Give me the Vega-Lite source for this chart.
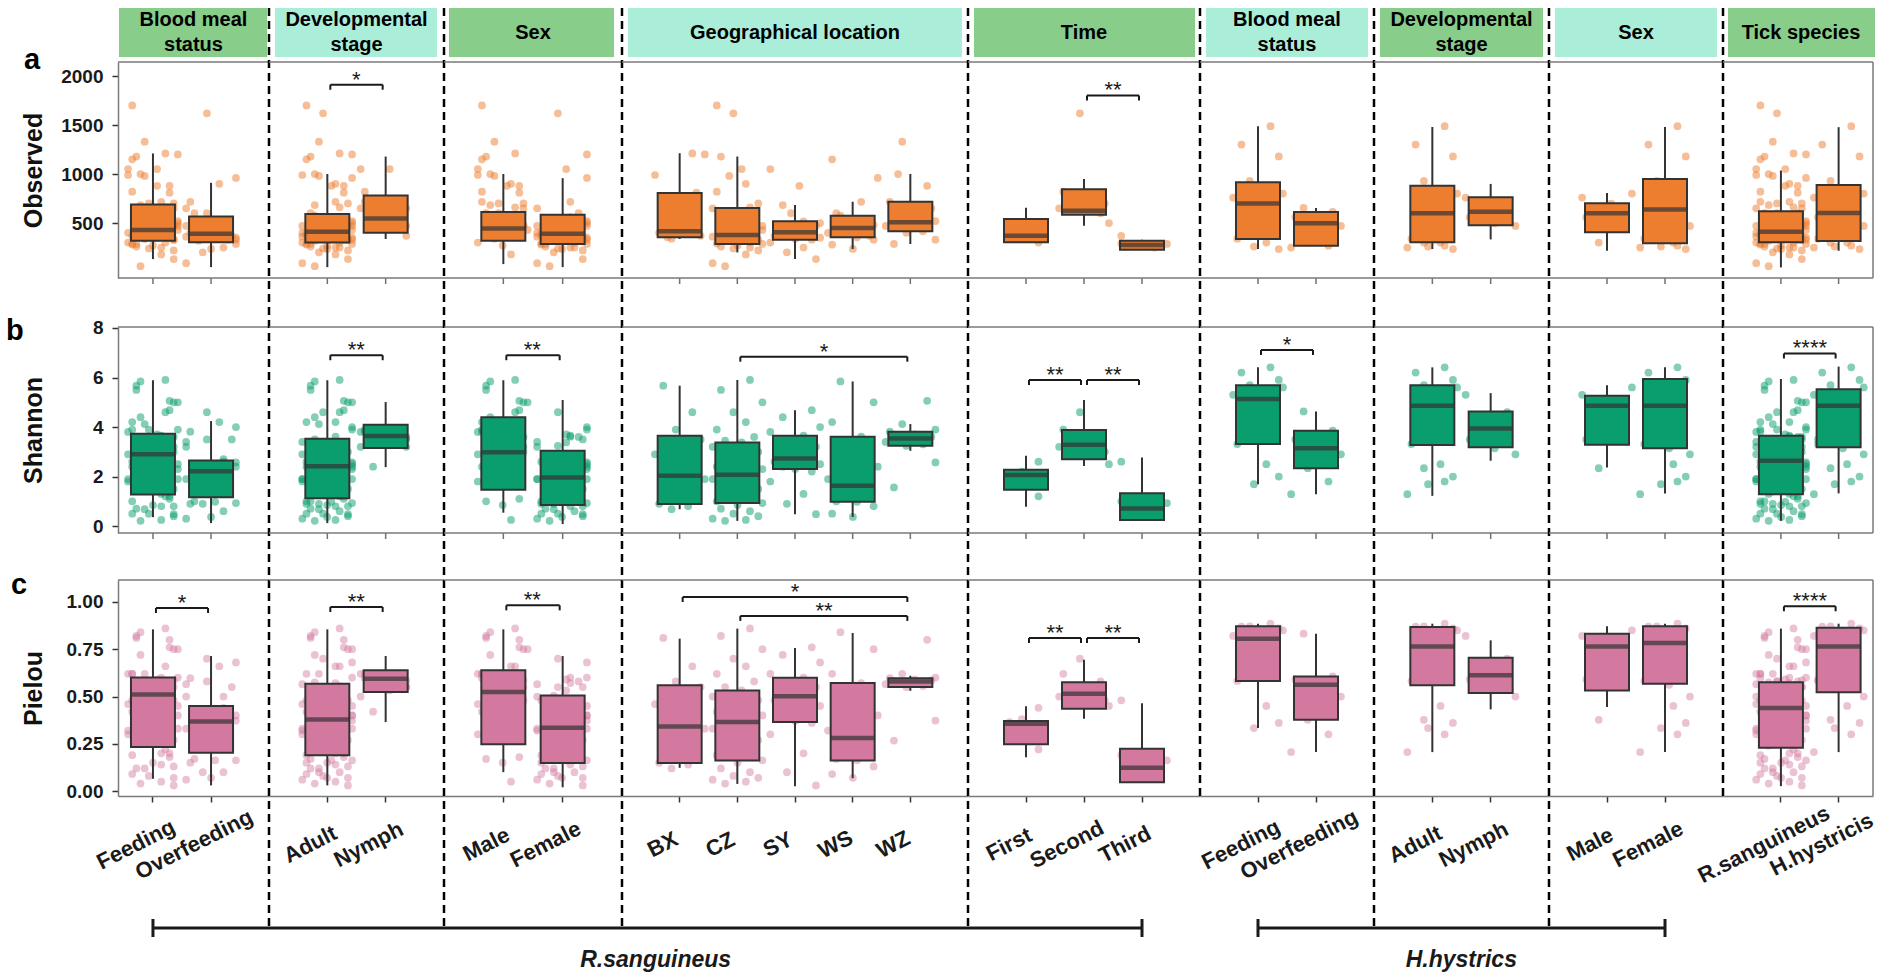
{
"$schema":"https://vega.github.io/schema/vega-lite/v6.json",
"padding":{"left":5,"top":6,"right":5,"bottom":4},
"background":"white",
"config":{"font":"Liberation Sans","view":{"stroke":null},
"axis":{"grid":false,"domainColor":"#7a7a7a","domainWidth":1.5,"tickColor":"#333333","tickWidth":1.5,"tickSize":6,"labelFont":"Liberation Sans","labelFontWeight":"bold","labelColor":"#1a1a1a","titleFont":"Liberation Sans"}},
"datasets":{
"smp":[
{"sp":"R.sanguineus","bm":"Feeding","dv":"Adult","sx":"Male","geo":"BX","o":450,"s":5.67,"p":0.81,"j":-0.4},
{"sp":"R.sanguineus","bm":"Feeding","dv":"Adult","sx":"Male","geo":"BX","o":1210,"s":4.6,"p":0.66,"j":0.3},
{"sp":"R.sanguineus","bm":"Feeding","dv":"Nymph","sx":"Male","geo":"BX","o":700,"s":3.9,"p":0.58,"j":-0.1},
{"sp":"R.sanguineus","bm":"Overfeeding","dv":"Nymph","sx":"Female","geo":"BX","o":370,"s":3.5,"p":0.55,"j":0.5},
{"sp":"R.sanguineus","bm":"Feeding","dv":"Adult","sx":"Male","geo":"BX","o":990,"s":2.9,"p":0.46,"j":-0.6},
{"sp":"R.sanguineus","bm":"Feeding","dv":"Adult","sx":"Female","geo":"BX","o":415,"s":2.2,"p":0.36,"j":0.1},
{"sp":"R.sanguineus","bm":"Feeding","dv":"Adult","sx":"Female","geo":"BX","o":1200,"s":1.9,"p":0.33,"j":0.6},
{"sp":"R.sanguineus","bm":"Feeding","dv":"Adult","sx":"Female","geo":"BX","o":355,"s":1.5,"p":0.25,"j":-0.3},
{"sp":"R.sanguineus","bm":"Feeding","dv":"Adult","sx":"Male","geo":"BX","o":810,"s":1.1,"p":0.18,"j":0.4},
{"sp":"R.sanguineus","bm":"Overfeeding","dv":"Adult","sx":"Female","geo":"BX","o":400,"s":0.9,"p":0.15,"j":-0.5},
{"sp":"R.sanguineus","bm":"Feeding","dv":"Adult","sx":"Female","geo":"BX","o":560,"s":0.8,"p":0.14,"j":0.2},
{"sp":"R.sanguineus","bm":"Feeding","dv":"Adult","sx":"Female","geo":"BX","o":340,"s":0.68,"p":0.12,"j":-0.2},
{"sp":"R.sanguineus","bm":"Feeding","dv":"Adult","sx":"Male","geo":"CZ","o":660,"s":5.9,"p":0.86,"j":0.3},
{"sp":"R.sanguineus","bm":"Feeding","dv":"Adult","sx":"Male","geo":"CZ","o":1178,"s":5.5,"p":0.82,"j":-0.4},
{"sp":"R.sanguineus","bm":"Feeding","dv":"Adult","sx":"Male","geo":"CZ","o":430,"s":5.0,"p":0.75,"j":0.6},
{"sp":"R.sanguineus","bm":"Overfeeding","dv":"Adult","sx":"Female","geo":"CZ","tm":"Second","o":1620,"s":4.6,"p":0.7,"j":-0.1},
{"sp":"R.sanguineus","bm":"Overfeeding","dv":"Adult","sx":"Male","geo":"CZ","o":900,"s":4.2,"p":0.66,"j":0.2},
{"sp":"R.sanguineus","bm":"Feeding","dv":"Nymph","sx":"Male","geo":"CZ","tm":"Second","o":820,"s":3.9,"p":0.62,"j":-0.5},
{"sp":"R.sanguineus","bm":"Feeding","dv":"Nymph","sx":"Female","geo":"CZ","tm":"Second","o":600,"s":3.6,"p":0.58,"j":0.4},
{"sp":"R.sanguineus","bm":"Feeding","dv":"Nymph","sx":"Male","geo":"CZ","o":550,"s":3.45,"p":0.55,"j":-0.3},
{"sp":"R.sanguineus","bm":"Feeding","dv":"Nymph","sx":"Female","geo":"CZ","o":1050,"s":3.38,"p":0.532,"j":0.1},
{"sp":"R.sanguineus","bm":"Overfeeding","dv":"Nymph","sx":"Female","geo":"CZ","tm":"Second","o":650,"s":3.2,"p":0.5,"j":-0.6},
{"sp":"R.sanguineus","bm":"Feeding","dv":"Adult","sx":"Male","geo":"CZ","tm":"Second","o":700,"s":3.0,"p":0.48,"j":0.5},
{"sp":"R.sanguineus","bm":"Feeding","dv":"Adult","sx":"Male","geo":"CZ","o":980,"s":2.8,"p":0.46,"j":-0.2},
{"sp":"R.sanguineus","bm":"Overfeeding","dv":"Adult","sx":"Female","geo":"CZ","tm":"First","o":500,"s":2.6,"p":0.44,"j":0.3},
{"sp":"R.sanguineus","bm":"Feeding","dv":"Adult","sx":"Male","geo":"CZ","o":1700,"s":2.4,"p":0.42,"j":-0.5},
{"sp":"R.sanguineus","bm":"Feeding","dv":"Adult","sx":"Female","geo":"CZ","o":470,"s":2.3,"p":0.4,"j":0.6},
{"sp":"R.sanguineus","bm":"Feeding","dv":"Adult","sx":"Female","geo":"CZ","tm":"First","o":400,"s":2.2,"p":0.38,"j":-0.1},
{"sp":"R.sanguineus","bm":"Overfeeding","dv":"Adult","sx":"Male","geo":"CZ","o":390,"s":2.1,"p":0.37,"j":0.2},
{"sp":"R.sanguineus","bm":"Feeding","dv":"Adult","sx":"Female","geo":"CZ","tm":"First","o":378,"s":2.07,"p":0.365,"j":-0.4},
{"sp":"R.sanguineus","bm":"Feeding","dv":"Adult","sx":"Male","geo":"CZ","tm":"First","o":370,"s":2.0,"p":0.35,"j":0.4},
{"sp":"R.sanguineus","bm":"Overfeeding","dv":"Adult","sx":"Female","geo":"CZ","o":360,"s":1.9,"p":0.33,"j":-0.6},
{"sp":"R.sanguineus","bm":"Feeding","dv":"Adult","sx":"Female","geo":"CZ","o":350,"s":1.8,"p":0.31,"j":0.1},
{"sp":"R.sanguineus","bm":"Feeding","dv":"Adult","sx":"Male","geo":"CZ","tm":"First","o":340,"s":1.6,"p":0.29,"j":-0.2},
{"sp":"R.sanguineus","bm":"Feeding","dv":"Adult","sx":"Female","geo":"CZ","o":330,"s":1.5,"p":0.27,"j":0.5},
{"sp":"R.sanguineus","bm":"Overfeeding","dv":"Adult","sx":"Female","geo":"CZ","o":320,"s":1.3,"p":0.24,"j":-0.3},
{"sp":"R.sanguineus","bm":"Feeding","dv":"Adult","sx":"Female","geo":"CZ","tm":"First","o":300,"s":1.2,"p":0.22,"j":0.3},
{"sp":"R.sanguineus","bm":"Feeding","dv":"Adult","sx":"Female","geo":"CZ","tm":"Third","o":290,"s":1.0,"p":0.19,"j":-0.5},
{"sp":"R.sanguineus","bm":"Overfeeding","dv":"Adult","sx":"Female","geo":"CZ","tm":"Third","o":286,"s":0.93,"p":0.162,"j":0.6},
{"sp":"R.sanguineus","bm":"Feeding","dv":"Adult","sx":"Male","geo":"CZ","tm":"Third","o":270,"s":0.85,"p":0.15,"j":0.0},
{"sp":"R.sanguineus","bm":"Feeding","dv":"Adult","sx":"Female","geo":"CZ","tm":"Third","o":260,"s":0.7,"p":0.12,"j":-0.4},
{"sp":"R.sanguineus","bm":"Overfeeding","dv":"Adult","sx":"Female","geo":"CZ","tm":"Third","o":250,"s":0.6,"p":0.1,"j":0.3},
{"sp":"R.sanguineus","bm":"Feeding","dv":"Adult","sx":"Female","geo":"CZ","o":240,"s":0.5,"p":0.08,"j":-0.1},
{"sp":"R.sanguineus","bm":"Feeding","dv":"Adult","sx":"Female","geo":"CZ","o":220,"s":0.4,"p":0.07,"j":0.5},
{"sp":"R.sanguineus","bm":"Overfeeding","dv":"Adult","sx":"Female","geo":"CZ","o":90,"s":0.3,"p":0.06,"j":-0.6},
{"sp":"R.sanguineus","bm":"Feeding","dv":"Adult","sx":"Male","geo":"CZ","o":180,"s":0.25,"p":0.05,"j":0.2},
{"sp":"R.sanguineus","bm":"Feeding","dv":"Adult","sx":"Female","geo":"CZ","o":60,"s":0.21,"p":0.04,"j":-0.3},
{"sp":"R.sanguineus","bm":"Feeding","dv":"Adult","sx":"Male","geo":"SY","o":420,"s":4.68,"p":0.76,"j":0.4},
{"sp":"R.sanguineus","bm":"Feeding","dv":"Adult","sx":"Male","geo":"SY","o":683,"s":4.4,"p":0.72,"j":-0.3},
{"sp":"R.sanguineus","bm":"Overfeeding","dv":"Adult","sx":"Female","geo":"SY","o":350,"s":4.0,"p":0.68,"j":0.6},
{"sp":"R.sanguineus","bm":"Feeding","dv":"Nymph","sx":"Male","geo":"SY","o":1050,"s":3.8,"p":0.62,"j":-0.6},
{"sp":"R.sanguineus","bm":"Feeding","dv":"Nymph","sx":"Female","geo":"SY","o":518,"s":3.65,"p":0.6,"j":0.2},
{"sp":"R.sanguineus","bm":"Overfeeding","dv":"Nymph","sx":"Male","geo":"SY","o":600,"s":3.5,"p":0.58,"j":-0.1},
{"sp":"R.sanguineus","bm":"Feeding","dv":"Nymph","sx":"Male","geo":"SY","o":470,"s":3.2,"p":0.55,"j":0.5},
{"sp":"R.sanguineus","bm":"Feeding","dv":"Adult","sx":"Male","geo":"SY","o":400,"s":3.0,"p":0.53,"j":-0.4},
{"sp":"R.sanguineus","bm":"Feeding","dv":"Adult","sx":"Male","geo":"SY","o":880,"s":2.85,"p":0.51,"j":0.1},
{"sp":"R.sanguineus","bm":"Feeding","dv":"Adult","sx":"Female","geo":"SY","o":410,"s":2.75,"p":0.505,"j":-0.2},
{"sp":"R.sanguineus","bm":"Overfeeding","dv":"Adult","sx":"Male","geo":"SY","o":390,"s":2.7,"p":0.5,"j":0.3},
{"sp":"R.sanguineus","bm":"Feeding","dv":"Adult","sx":"Female","geo":"SY","tm":"Third","o":370,"s":2.6,"p":0.48,"j":-0.5},
{"sp":"R.sanguineus","bm":"Feeding","dv":"Adult","sx":"Female","geo":"SY","tm":"Second","o":500,"s":2.5,"p":0.45,"j":0.6},
{"sp":"R.sanguineus","bm":"Feeding","dv":"Nymph","sx":"Female","geo":"SY","o":440,"s":2.4,"p":0.42,"j":-0.3},
{"sp":"R.sanguineus","bm":"Feeding","dv":"Adult","sx":"Female","geo":"SY","o":340,"s":2.3,"p":0.37,"j":0.0},
{"sp":"R.sanguineus","bm":"Overfeeding","dv":"Adult","sx":"Female","geo":"SY","o":330,"s":2.2,"p":0.36,"j":0.4},
{"sp":"R.sanguineus","bm":"Feeding","dv":"Adult","sx":"Male","geo":"SY","o":300,"s":1.8,"p":0.3,"j":-0.6},
{"sp":"R.sanguineus","bm":"Feeding","dv":"Adult","sx":"Female","geo":"SY","o":250,"s":1.3,"p":0.2,"j":0.2},
{"sp":"R.sanguineus","bm":"Overfeeding","dv":"Adult","sx":"Female","geo":"SY","o":200,"s":0.9,"p":0.1,"j":-0.2},
{"sp":"R.sanguineus","bm":"Feeding","dv":"Adult","sx":"Female","geo":"SY","o":132,"s":0.48,"p":0.03,"j":0.5},
{"sp":"R.sanguineus","bm":"Feeding","dv":"Adult","sx":"Male","geo":"WS","o":575,"s":5.84,"p":0.84,"j":-0.3},
{"sp":"R.sanguineus","bm":"Feeding","dv":"Adult","sx":"Male","geo":"WS","o":480,"s":5.0,"p":0.75,"j":0.5},
{"sp":"R.sanguineus","bm":"Feeding","dv":"Adult","sx":"Male","geo":"WS","o":1150,"s":4.2,"p":0.62,"j":-0.5},
{"sp":"R.sanguineus","bm":"Feeding","dv":"Adult","sx":"Female","geo":"WS","o":717,"s":3.61,"p":0.571,"j":0.2},
{"sp":"R.sanguineus","bm":"Feeding","dv":"Adult","sx":"Male","geo":"WS","o":449,"s":3.2,"p":0.5,"j":-0.1},
{"sp":"R.sanguineus","bm":"Overfeeding","dv":"Adult","sx":"Female","geo":"WS","o":960,"s":2.4,"p":0.4,"j":0.6},
{"sp":"R.sanguineus","bm":"Feeding","dv":"Adult","sx":"Female","geo":"WS","o":400,"s":1.9,"p":0.32,"j":-0.6},
{"sp":"R.sanguineus","bm":"Feeding","dv":"Adult","sx":"Male","geo":"WS","o":520,"s":1.63,"p":0.28,"j":0.3},
{"sp":"R.sanguineus","bm":"Overfeeding","dv":"Adult","sx":"Female","geo":"WS","o":430,"s":1.4,"p":0.25,"j":-0.2},
{"sp":"R.sanguineus","bm":"Feeding","dv":"Adult","sx":"Female","geo":"WS","o":370,"s":1.2,"p":0.2,"j":0.4},
{"sp":"R.sanguineus","bm":"Overfeeding","dv":"Adult","sx":"Male","geo":"WS","o":600,"s":1.0,"p":0.17,"j":-0.4},
{"sp":"R.sanguineus","bm":"Overfeeding","dv":"Adult","sx":"Female","geo":"WS","o":354,"s":0.98,"p":0.162,"j":0.1},
{"sp":"R.sanguineus","bm":"Feeding","dv":"Adult","sx":"Female","geo":"WS","o":330,"s":0.8,"p":0.13,"j":0.5},
{"sp":"R.sanguineus","bm":"Feeding","dv":"Adult","sx":"Female","geo":"WS","o":280,"s":0.5,"p":0.09,"j":-0.5},
{"sp":"R.sanguineus","bm":"Overfeeding","dv":"Adult","sx":"Female","geo":"WS","o":235,"s":0.37,"p":0.07,"j":0.0},
{"sp":"R.sanguineus","bm":"Feeding","dv":"Adult","sx":"Male","geo":"WZ","o":880,"s":5.06,"p":0.8,"j":0.4},
{"sp":"R.sanguineus","bm":"Feeding","dv":"Adult","sx":"Male","geo":"WZ","o":1330,"s":4.12,"p":0.62,"j":-0.2},
{"sp":"R.sanguineus","bm":"Feeding","dv":"Adult","sx":"Female","geo":"WZ","o":520,"s":3.9,"p":0.6,"j":0.6},
{"sp":"R.sanguineus","bm":"Overfeeding","dv":"Nymph","sx":"Male","geo":"WZ","o":717,"s":3.81,"p":0.597,"j":-0.5},
{"sp":"R.sanguineus","bm":"Feeding","dv":"Nymph","sx":"Female","geo":"WZ","o":495,"s":3.7,"p":0.59,"j":0.1},
{"sp":"R.sanguineus","bm":"Feeding","dv":"Nymph","sx":"Male","geo":"WZ","o":650,"s":3.6,"p":0.585,"j":0.5},
{"sp":"R.sanguineus","bm":"Feeding","dv":"Adult","sx":"Male","geo":"WZ","o":1000,"s":3.5,"p":0.575,"j":-0.3},
{"sp":"R.sanguineus","bm":"Overfeeding","dv":"Adult","sx":"Female","geo":"WZ","o":470,"s":3.4,"p":0.565,"j":-0.6},
{"sp":"R.sanguineus","bm":"Feeding","dv":"Adult","sx":"Male","geo":"WZ","o":415,"s":3.3,"p":0.555,"j":0.3},
{"sp":"R.sanguineus","bm":"Feeding","dv":"Adult","sx":"Female","geo":"WZ","o":400,"s":3.24,"p":0.55,"j":-0.1},
{"sp":"R.sanguineus","bm":"Overfeeding","dv":"Adult","sx":"Female","geo":"WZ","o":330,"s":2.57,"p":0.373,"j":0.6},
{"sp":"R.sanguineus","bm":"Feeding","dv":"Adult","sx":"Female","geo":"WZ","o":286,"s":1.56,"p":0.267,"j":-0.4},
{"sp":"H.hystricis","bm":"Feeding","dv":"Adult","sx":"Female","o":1488,"s":6.41,"p":0.885,"j":0.3},
{"sp":"H.hystricis","bm":"Feeding","dv":"Adult","sx":"Female","o":1300,"s":6.2,"p":0.87,"j":-0.4},
{"sp":"H.hystricis","bm":"Feeding","dv":"Adult","sx":"Female","o":1180,"s":5.9,"p":0.86,"j":0.5},
{"sp":"H.hystricis","bm":"Feeding","dv":"Adult","sx":"Female","o":930,"s":5.69,"p":0.871,"j":-0.2},
{"sp":"H.hystricis","bm":"Feeding","dv":"Adult","sx":"Male","o":800,"s":5.6,"p":0.85,"j":0.6},
{"sp":"H.hystricis","bm":"Feeding","dv":"Nymph","sx":"Male","o":760,"s":5.3,"p":0.82,"j":-0.6},
{"sp":"H.hystricis","bm":"Feeding","dv":"Adult","sx":"Male","o":698,"s":5.13,"p":0.806,"j":0.1},
{"sp":"H.hystricis","bm":"Feeding","dv":"Adult","sx":"Female","o":640,"s":4.9,"p":0.78,"j":-0.3},
{"sp":"H.hystricis","bm":"Feeding","dv":"Nymph","sx":"Female","o":560,"s":4.6,"p":0.7,"j":0.4},
{"sp":"H.hystricis","bm":"Feeding","dv":"Adult","sx":"Female","o":340,"s":3.31,"p":0.582,"j":-0.5},
{"sp":"H.hystricis","bm":"Feeding","dv":"Adult","sx":"Female","o":300,"s":2.5,"p":0.45,"j":0.2},
{"sp":"H.hystricis","bm":"Feeding","dv":"Adult","sx":"Female","o":260,"s":1.69,"p":0.333,"j":-0.1},
{"sp":"H.hystricis","bm":"Feeding","dv":"Adult","sx":"Female","o":234,"s":2.0,"p":0.36,"j":0.5},
{"sp":"H.hystricis","bm":"Overfeeding","dv":"Adult","sx":"Female","o":654,"s":4.63,"p":0.832,"j":-0.3},
{"sp":"H.hystricis","bm":"Overfeeding","dv":"Nymph","sx":"Male","o":613,"s":3.85,"p":0.606,"j":0.4},
{"sp":"H.hystricis","bm":"Overfeeding","dv":"Nymph","sx":"Male","o":560,"s":3.5,"p":0.59,"j":-0.5},
{"sp":"H.hystricis","bm":"Overfeeding","dv":"Nymph","sx":"Female","o":497,"s":3.14,"p":0.562,"j":0.1},
{"sp":"H.hystricis","bm":"Overfeeding","dv":"Nymph","sx":"Female","o":470,"s":2.9,"p":0.5,"j":0.6},
{"sp":"H.hystricis","bm":"Overfeeding","dv":"Adult","sx":"Male","o":300,"s":2.34,"p":0.377,"j":-0.2},
{"sp":"H.hystricis","bm":"Overfeeding","dv":"Adult","sx":"Female","o":269,"s":1.8,"p":0.3,"j":0.3},
{"sp":"H.hystricis","bm":"Overfeeding","dv":"Adult","sx":"Female","o":250,"s":1.29,"p":0.206,"j":-0.6}
],
"box":[
{"g":"G1","m":"o","bm":"Feeding","lo":132,"q1":319,"md":428,"q3":688,"hi":1210},
{"g":"G1","m":"o","bm":"Overfeeding","lo":50,"q1":303,"md":390,"q3":567,"hi":910},
{"g":"G1","m":"s","bm":"Feeding","lo":0.36,"q1":1.28,"md":2.9,"q3":3.73,"hi":5.89},
{"g":"G1","m":"s","bm":"Overfeeding","lo":0.12,"q1":1.16,"md":2.21,"q3":2.65,"hi":4.24},
{"g":"G1","m":"p","bm":"Feeding","lo":0.065,"q1":0.233,"md":0.51,"q3":0.6,"hi":0.855},
{"g":"G1","m":"p","bm":"Overfeeding","lo":0.03,"q1":0.203,"md":0.368,"q3":0.45,"hi":0.714},
{"g":"G2","m":"o","dv":"Adult","lo":50,"q1":300,"md":411,"q3":592,"hi":1000},
{"g":"G2","m":"o","dv":"Nymph","lo":337,"q1":400,"md":545,"q3":780,"hi":1178},
{"g":"G2","m":"s","dv":"Adult","lo":0.12,"q1":1.12,"md":2.42,"q3":3.53,"hi":5.89},
{"g":"G2","m":"s","dv":"Nymph","lo":2.38,"q1":3.15,"md":3.64,"q3":4.09,"hi":5.01},
{"g":"G2","m":"p","dv":"Adult","lo":0.03,"q1":0.189,"md":0.379,"q3":0.568,"hi":0.855},
{"g":"G2","m":"p","dv":"Nymph","lo":0.365,"q1":0.524,"md":0.594,"q3":0.639,"hi":0.714},
{"g":"G3","m":"o","sx":"Male","lo":81,"q1":320,"md":445,"q3":612,"hi":1000},
{"g":"G3","m":"o","sx":"Female","lo":50,"q1":286,"md":390,"q3":585,"hi":958},
{"g":"G3","m":"s","sx":"Male","lo":0.54,"q1":1.47,"md":2.98,"q3":4.39,"hi":5.89},
{"g":"G3","m":"s","sx":"Female","lo":0.08,"q1":0.85,"md":1.96,"q3":3.04,"hi":5.09},
{"g":"G3","m":"p","sx":"Male","lo":0.1,"q1":0.247,"md":0.524,"q3":0.639,"hi":0.855},
{"g":"G3","m":"p","sx":"Female","lo":0.02,"q1":0.148,"md":0.335,"q3":0.506,"hi":0.714},
{"g":"G4","m":"o","geo":"BX","lo":337,"q1":354,"md":415,"q3":807,"hi":1212},
{"g":"G4","m":"o","geo":"CZ","lo":200,"q1":286,"md":378,"q3":654,"hi":1178},
{"g":"G4","m":"o","geo":"SY","lo":132,"q1":330,"md":405,"q3":518,"hi":683},
{"g":"G4","m":"o","geo":"WS","lo":235,"q1":354,"md":449,"q3":575,"hi":717},
{"g":"G4","m":"o","geo":"WZ","lo":286,"q1":415,"md":507,"q3":717,"hi":1000},
{"g":"G4","m":"s","geo":"BX","lo":0.68,"q1":0.89,"md":2.03,"q3":3.65,"hi":5.67},
{"g":"G4","m":"s","geo":"CZ","lo":0.21,"q1":0.93,"md":2.07,"q3":3.38,"hi":5.9},
{"g":"G4","m":"s","geo":"SY","lo":0.48,"q1":2.3,"md":2.73,"q3":3.65,"hi":4.68},
{"g":"G4","m":"s","geo":"WS","lo":0.37,"q1":0.98,"md":1.63,"q3":3.61,"hi":5.84},
{"g":"G4","m":"s","geo":"WZ","lo":3.04,"q1":3.24,"md":3.54,"q3":3.81,"hi":4.12},
{"g":"G4","m":"p","geo":"BX","lo":0.123,"q1":0.148,"md":0.342,"q3":0.559,"hi":0.806},
{"g":"G4","m":"p","geo":"CZ","lo":0.038,"q1":0.162,"md":0.365,"q3":0.532,"hi":0.859},
{"g":"G4","m":"p","geo":"SY","lo":0.026,"q1":0.365,"md":0.502,"q3":0.599,"hi":0.756},
{"g":"G4","m":"p","geo":"WS","lo":0.068,"q1":0.162,"md":0.28,"q3":0.571,"hi":0.836},
{"g":"G4","m":"p","geo":"WZ","lo":0.53,"q1":0.55,"md":0.58,"q3":0.597,"hi":0.61},
{"g":"G5","m":"o","tm":"First","lo":303,"q1":303,"md":371,"q3":541,"hi":656},
{"g":"G5","m":"o","tm":"Second","lo":473,"q1":585,"md":624,"q3":845,"hi":950},
{"g":"G5","m":"o","tm":"Third","lo":228,"q1":228,"md":276,"q3":319,"hi":330},
{"g":"G5","m":"s","tm":"First","lo":0.78,"q1":1.47,"md":2.06,"q3":2.27,"hi":2.84},
{"g":"G5","m":"s","tm":"Second","lo":2.43,"q1":2.7,"md":3.28,"q3":3.88,"hi":5.09},
{"g":"G5","m":"s","tm":"Third","lo":0.25,"q1":0.25,"md":0.71,"q3":1.33,"hi":2.77},
{"g":"G5","m":"p","tm":"First","lo":0.179,"q1":0.247,"md":0.356,"q3":0.37,"hi":0.448},
{"g":"G5","m":"p","tm":"Second","lo":0.382,"q1":0.435,"md":0.515,"q3":0.576,"hi":0.695},
{"g":"G5","m":"p","tm":"Third","lo":0.047,"q1":0.047,"md":0.123,"q3":0.224,"hi":0.465},
{"g":"G6","m":"o","bm":"Feeding","lo":234,"q1":337,"md":698,"q3":916,"hi":1488},
{"g":"G6","m":"o","bm":"Overfeeding","lo":269,"q1":269,"md":497,"q3":613,"hi":654},
{"g":"G6","m":"s","bm":"Feeding","lo":1.69,"q1":3.31,"md":5.13,"q3":5.69,"hi":6.41},
{"g":"G6","m":"s","bm":"Overfeeding","lo":1.29,"q1":2.34,"md":3.14,"q3":3.85,"hi":4.63},
{"g":"G6","m":"p","bm":"Feeding","lo":0.333,"q1":0.582,"md":0.806,"q3":0.871,"hi":0.885},
{"g":"G6","m":"p","bm":"Overfeeding","lo":0.206,"q1":0.377,"md":0.562,"q3":0.606,"hi":0.832},
{"g":"G7","m":"o","dv":"Adult","lo":234,"q1":303,"md":600,"q3":880,"hi":1480},
{"g":"G7","m":"o","dv":"Nymph","lo":333,"q1":476,"md":616,"q3":763,"hi":899},
{"g":"G7","m":"s","dv":"Adult","lo":1.22,"q1":3.27,"md":4.86,"q3":5.69,"hi":6.41},
{"g":"G7","m":"s","dv":"Nymph","lo":2.64,"q1":3.18,"md":3.94,"q3":4.63,"hi":5.37},
{"g":"G7","m":"p","dv":"Adult","lo":0.206,"q1":0.559,"md":0.765,"q3":0.867,"hi":0.885},
{"g":"G7","m":"p","dv":"Nymph","lo":0.432,"q1":0.518,"md":0.612,"q3":0.705,"hi":0.797},
{"g":"G8","m":"o","sx":"Male","lo":217,"q1":405,"md":600,"q3":703,"hi":807},
{"g":"G8","m":"o","sx":"Female","lo":293,"q1":293,"md":637,"q3":950,"hi":1480},
{"g":"G8","m":"s","sx":"Male","lo":2.37,"q1":3.28,"md":4.86,"q3":5.26,"hi":5.69},
{"g":"G8","m":"s","sx":"Female","lo":1.32,"q1":3.14,"md":4.86,"q3":5.94,"hi":6.41},
{"g":"G8","m":"p","sx":"Male","lo":0.444,"q1":0.532,"md":0.765,"q3":0.832,"hi":0.871},
{"g":"G8","m":"p","sx":"Female","lo":0.206,"q1":0.568,"md":0.783,"q3":0.871,"hi":0.885},
{"g":"G9","m":"o","sp":"R.sanguineus","lo":47,"q1":303,"md":410,"q3":620,"hi":1035},
{"g":"G9","m":"o","sp":"H.hystricis","lo":217,"q1":317,"md":602,"q3":889,"hi":1478},
{"g":"G9","m":"s","sp":"R.sanguineus","lo":0.21,"q1":1.29,"md":2.64,"q3":3.65,"hi":5.94},
{"g":"G9","m":"s","sp":"H.hystricis","lo":1.32,"q1":3.18,"md":4.86,"q3":5.53,"hi":6.44},
{"g":"G9","m":"p","sp":"R.sanguineus","lo":0.026,"q1":0.229,"md":0.439,"q3":0.576,"hi":0.859},
{"g":"G9","m":"p","sp":"H.hystricis","lo":0.206,"q1":0.523,"md":0.765,"q3":0.864,"hi":0.885}
],
"sig":[
{"g":"G2","m":"o","c1":"Adult","c2":"Nymph","y":1911,"t":"*","at":"Adult","half":true},
{"g":"G5","m":"o","c1":"Second","c2":"Third","y":1802,"t":"**","at":"Second","half":true},
{"g":"G2","m":"s","c1":"Adult","c2":"Nymph","y":6.9,"t":"**","at":"Adult","half":true},
{"g":"G3","m":"s","c1":"Male","c2":"Female","y":6.9,"t":"**","at":"Male","half":true},
{"g":"G4","m":"s","c1":"CZ","c2":"WZ","y":6.84,"t":"*","at":"SY","half":true},
{"g":"G5","m":"s","c1":"First","c2":"Second","y":5.9,"t":"**","at":"First","half":true},
{"g":"G5","m":"s","c1":"Second","c2":"Third","y":5.9,"t":"**","at":"Second","half":true},
{"g":"G6","m":"s","c1":"Feeding","c2":"Overfeeding","y":7.11,"t":"*","at":"Feeding","half":true},
{"g":"G9","m":"s","c1":"R.sanguineus","c2":"H.hystricis","y":6.97,"t":"****","at":"R.sanguineus","half":true},
{"g":"G1","m":"p","c1":"Feeding","c2":"Overfeeding","y":0.968,"t":"*","at":"Feeding","half":true},
{"g":"G2","m":"p","c1":"Adult","c2":"Nymph","y":0.973,"t":"**","at":"Adult","half":true},
{"g":"G3","m":"p","c1":"Male","c2":"Female","y":0.982,"t":"**","at":"Male","half":true},
{"g":"G4","m":"p","c1":"BX","c2":"WZ","y":1.026,"t":"*","at":"SY","half":false},
{"g":"G4","m":"p","c1":"CZ","c2":"WZ","y":0.926,"t":"**","at":"SY","half":true},
{"g":"G5","m":"p","c1":"First","c2":"Second","y":0.809,"t":"**","at":"First","half":true},
{"g":"G5","m":"p","c1":"Second","c2":"Third","y":0.809,"t":"**","at":"Second","half":true},
{"g":"G9","m":"p","c1":"R.sanguineus","c2":"H.hystricis","y":0.977,"t":"****","at":"R.sanguineus","half":true}
]
},
"spacing":0,
"bounds":"flush",
"hconcat":[
{"width":151,"height":788,"resolve":{"scale":{"x":"independent","y":"independent"},"axis":{"x":"independent","y":"independent"}},
"encoding":{"x":{"field":"bm","type":"nominal","scale":{"type":"band","domain":["Feeding","Overfeeding"],"paddingInner":0,"paddingOuter":0.3,"align":0.17},"axis":null}},
"layer":[
{"data":{"values":[{"h":"Blood meal\nstatus"}]},"layer":[
{"mark":{"type":"rect","color":"#88CD8A","xOffset":1,"x2Offset":-2},"encoding":{"x":{"value":0},"x2":{"value":"width"},"y":{"datum":0,"scale":{"domain":[0,1],"range":[0,49]},"axis":null},"y2":{"datum":1}}},
{"mark":{"type":"text","fontSize":20,"fontWeight":"bold","color":"#000","lineBreak":"\n","lineHeight":25,"baseline":"middle","align":"center","dy":-12.5},"encoding":{"text":{"field":"h"},"x":{"field":"h","type":"nominal","scale":{"type":"band","paddingInner":0,"paddingOuter":0},"axis":null},"y":{"datum":0.5,"axis":null}}}]},
{"resolve":{"axis":{"x":"independent","y":"independent"}},"layer":[
{"data":{"name":"smp"},"transform":[{"filter":"datum.sp=='R.sanguineus'"}],"mark":{"type":"circle","size":60,"opacity":0.5,"color":"#EE7E2F"},"encoding":{"xOffset":{"field":"j","type":"quantitative","scale":{"domain":[-0.7,0.7]}},"y":{"field":"o","type":"quantitative","scale":{"domain":[-61,2143],"range":[270,54],"nice":false,"zero":false},"axis":{"orient":"left","values":[500,1000,1500,2000],"format":"d","title":"Observed","titleFontSize":25,"titleFontWeight":"bold","titleColor":"#111","titleX":-85,"titleBaseline":"middle","labelFontSize":19,"labelPadding":9}}}},
{"data":{"name":"box"},"transform":[{"filter":"datum.g=='G1'&&datum.m=='o'"}],"layer":[
{"mark":{"type":"rule","color":"#333","strokeWidth":2},"encoding":{"y":{"field":"lo","type":"quantitative","axis":null},"y2":{"field":"hi"}}},
{"mark":{"type":"bar","width":44,"fill":"#EE7E2F","stroke":"#333","strokeWidth":2},"encoding":{"y":{"field":"q1","type":"quantitative","axis":null},"y2":{"field":"q3"}}},
{"mark":{"type":"tick","size":44,"thickness":4.5,"color":"#333"},"encoding":{"y":{"field":"md","type":"quantitative","axis":null}}},
{"mark":{"type":"tick","orient":"vertical","size":6,"thickness":1.5,"color":"#333","yOffset":3},"encoding":{"y":{"datum":-61,"axis":null}}}]},
{"data":{"values":[{}]},"layer":[
{"mark":{"type":"rule","color":"#7a7a7a","strokeWidth":1.5},"encoding":{"x":{"value":0},"x2":{"value":"width"},"y":{"datum":2143,"axis":null}}},
{"mark":{"type":"rule","color":"#7a7a7a","strokeWidth":1.5},"encoding":{"x":{"value":0},"x2":{"value":"width"},"y":{"datum":-61,"axis":null}}},
{"mark":{"type":"text","text":"a","fontSize":29,"fontWeight":"bold","color":"#000","baseline":"alphabetic","align":"left","dx":-129,"dy":7},"encoding":{"x":{"datum":"Feeding","axis":null},"y":{"datum":2143,"axis":null}}}]}]},
{"resolve":{"axis":{"x":"independent","y":"independent"}},"layer":[
{"data":{"name":"smp"},"transform":[{"filter":"datum.sp=='R.sanguineus'"}],"mark":{"type":"circle","size":60,"opacity":0.5,"color":"#0A9E6E"},"encoding":{"xOffset":{"field":"j","type":"quantitative","scale":{"domain":[-0.7,0.7]}},"y":{"field":"s","type":"quantitative","scale":{"domain":[-0.28,8.04],"range":[525,319],"nice":false,"zero":false},"axis":{"orient":"left","values":[0,2,4,6,8],"title":"Shannon","titleFontSize":25,"titleFontWeight":"bold","titleColor":"#111","titleX":-85,"titleBaseline":"middle","labelFontSize":19,"labelPadding":9}}}},
{"data":{"name":"box"},"transform":[{"filter":"datum.g=='G1'&&datum.m=='s'"}],"layer":[
{"mark":{"type":"rule","color":"#333","strokeWidth":2},"encoding":{"y":{"field":"lo","type":"quantitative","axis":null},"y2":{"field":"hi"}}},
{"mark":{"type":"bar","width":44,"fill":"#0A9E6E","stroke":"#333","strokeWidth":2},"encoding":{"y":{"field":"q1","type":"quantitative","axis":null},"y2":{"field":"q3"}}},
{"mark":{"type":"tick","size":44,"thickness":4.5,"color":"#333"},"encoding":{"y":{"field":"md","type":"quantitative","axis":null}}},
{"mark":{"type":"tick","orient":"vertical","size":6,"thickness":1.5,"color":"#333","yOffset":3},"encoding":{"y":{"datum":-0.28,"axis":null}}}]},
{"data":{"values":[{}]},"layer":[
{"mark":{"type":"rule","color":"#7a7a7a","strokeWidth":1.5},"encoding":{"x":{"value":0},"x2":{"value":"width"},"y":{"datum":8.04,"axis":null}}},
{"mark":{"type":"rule","color":"#7a7a7a","strokeWidth":1.5},"encoding":{"x":{"value":0},"x2":{"value":"width"},"y":{"datum":-0.28,"axis":null}}},
{"mark":{"type":"text","text":"b","fontSize":29,"fontWeight":"bold","color":"#000","baseline":"alphabetic","align":"left","dx":-147,"dy":13},"encoding":{"x":{"datum":"Feeding","axis":null},"y":{"datum":8.04,"axis":null}}}]}]},
{"resolve":{"axis":{"x":"independent","y":"independent"}},"layer":[
{"data":{"name":"smp"},"transform":[{"filter":"datum.sp=='R.sanguineus'"}],"mark":{"type":"circle","size":60,"opacity":0.45,"color":"#D3789F"},"encoding":{"x":{"field":"bm","type":"nominal","title":null,"axis":{"labelAngle":-27,"labelAlign":"center","labelBaseline":"middle","labelPadding":42,"labelOffset":-17,"labelFontSize":22,"labelOverlap":false,"labelBound":false,"labelFlush":false}},"xOffset":{"field":"j","type":"quantitative","scale":{"domain":[-0.7,0.7]}},"y":{"field":"p","type":"quantitative","scale":{"domain":[-0.026,1.116],"range":[788,572],"nice":false,"zero":false},"axis":{"orient":"left","values":[0,0.25,0.5,0.75,1],"format":".2f","title":"Pielou","titleFontSize":25,"titleFontWeight":"bold","titleColor":"#111","titleX":-85,"titleBaseline":"middle","labelFontSize":19,"labelPadding":9}}}},
{"data":{"name":"box"},"transform":[{"filter":"datum.g=='G1'&&datum.m=='p'"}],"layer":[
{"mark":{"type":"rule","color":"#333","strokeWidth":2},"encoding":{"y":{"field":"lo","type":"quantitative","axis":null},"y2":{"field":"hi"}}},
{"mark":{"type":"bar","width":44,"fill":"#D3789F","stroke":"#333","strokeWidth":2},"encoding":{"y":{"field":"q1","type":"quantitative","axis":null},"y2":{"field":"q3"}}},
{"mark":{"type":"tick","size":44,"thickness":4.5,"color":"#333"},"encoding":{"y":{"field":"md","type":"quantitative","axis":null}}}]},
{"data":{"name":"sig"},"transform":[{"filter":"datum.g=='G1'&&datum.m=='p'"}],"layer":[
{"mark":{"type":"rule","color":"#1a1a1a","strokeWidth":2,"xOffset":3,"x2Offset":-3},"encoding":{"x":{"field":"c1","type":"nominal","axis":null},"x2":{"field":"c2"},"y":{"field":"y","type":"quantitative","axis":null}}},
{"mark":{"type":"rule","color":"#1a1a1a","strokeWidth":2,"xOffset":3,"y2Offset":5},"encoding":{"x":{"field":"c1","type":"nominal","axis":null},"y":{"field":"y","type":"quantitative","axis":null},"y2":{"field":"y"}}},
{"mark":{"type":"rule","color":"#1a1a1a","strokeWidth":2,"xOffset":-3,"y2Offset":5},"encoding":{"x":{"field":"c2","type":"nominal","axis":null},"y":{"field":"y","type":"quantitative","axis":null},"y2":{"field":"y"}}},
{"mark":{"type":"text","fontSize":22,"dx":29,"dy":2,"baseline":"alphabetic","color":"#1a1a1a"},"encoding":{"x":{"field":"at","type":"nominal","axis":null},"y":{"field":"y","type":"quantitative","axis":null},"text":{"field":"t"}}}]},
{"data":{"values":[{}]},"layer":[
{"mark":{"type":"rule","color":"#7a7a7a","strokeWidth":1.5},"encoding":{"x":{"value":0},"x2":{"value":"width"},"y":{"datum":1.116,"axis":null}}},
{"mark":{"type":"text","text":"c","fontSize":29,"fontWeight":"bold","color":"#000","baseline":"alphabetic","align":"left","dx":-142,"dy":14},"encoding":{"x":{"datum":"Feeding","axis":null},"y":{"datum":1.116,"axis":null}}},
{"mark":{"type":"rule","color":"#000","strokeWidth":2.5,"strokeDash":[8,5],"y2Offset":132},"encoding":{"x":{"value":"width"},"y":{"value":0},"y2":{"value":"height"}}},
{"mark":{"type":"rule","color":"#1a1a1a","strokeWidth":3,"yOffset":132},"encoding":{"x":{"datum":"Feeding","axis":null},"x2":{"value":"width"},"y":{"value":"height"}}},
{"mark":{"type":"rule","color":"#1a1a1a","strokeWidth":3,"yOffset":123,"y2Offset":141},"encoding":{"x":{"datum":"Feeding","axis":null},"y":{"value":"height"},"y2":{"value":"height"}}}]}]}
]},
{"width":175,"height":788,"resolve":{"scale":{"x":"independent","y":"independent"},"axis":{"x":"independent","y":"independent"}},
"encoding":{"x":{"field":"dv","type":"nominal","scale":{"type":"band","domain":["Adult","Nymph"],"paddingInner":0,"paddingOuter":0.5},"axis":null}},
"layer":[
{"data":{"values":[{"h":"Developmental\nstage"}]},"layer":[
{"mark":{"type":"rect","color":"#AAEDD9","xOffset":6,"x2Offset":-7},"encoding":{"x":{"value":0},"x2":{"value":"width"},"y":{"datum":0,"scale":{"domain":[0,1],"range":[0,49]},"axis":null},"y2":{"datum":1}}},
{"mark":{"type":"text","fontSize":20,"fontWeight":"bold","color":"#000","lineBreak":"\n","lineHeight":25,"baseline":"middle","align":"center","dy":-12.5},"encoding":{"text":{"field":"h"},"x":{"field":"h","type":"nominal","scale":{"type":"band","paddingInner":0,"paddingOuter":0},"axis":null},"y":{"datum":0.5,"axis":null}}}]},
{"resolve":{"axis":{"x":"independent","y":"independent"}},"layer":[
{"data":{"name":"smp"},"transform":[{"filter":"datum.sp=='R.sanguineus'"}],"mark":{"type":"circle","size":60,"opacity":0.5,"color":"#EE7E2F"},"encoding":{"xOffset":{"field":"j","type":"quantitative","scale":{"domain":[-0.7,0.7]}},"y":{"field":"o","type":"quantitative","scale":{"domain":[-61,2143],"range":[270,54],"nice":false,"zero":false},"axis":null}}},
{"data":{"name":"box"},"transform":[{"filter":"datum.g=='G2'&&datum.m=='o'"}],"layer":[
{"mark":{"type":"rule","color":"#333","strokeWidth":2},"encoding":{"y":{"field":"lo","type":"quantitative","axis":null},"y2":{"field":"hi"}}},
{"mark":{"type":"bar","width":44,"fill":"#EE7E2F","stroke":"#333","strokeWidth":2},"encoding":{"y":{"field":"q1","type":"quantitative","axis":null},"y2":{"field":"q3"}}},
{"mark":{"type":"tick","size":44,"thickness":4.5,"color":"#333"},"encoding":{"y":{"field":"md","type":"quantitative","axis":null}}},
{"mark":{"type":"tick","orient":"vertical","size":6,"thickness":1.5,"color":"#333","yOffset":3},"encoding":{"y":{"datum":-61,"axis":null}}}]},
{"data":{"name":"sig"},"transform":[{"filter":"datum.g=='G2'&&datum.m=='o'"}],"layer":[
{"mark":{"type":"rule","color":"#1a1a1a","strokeWidth":2,"xOffset":3,"x2Offset":-3},"encoding":{"x":{"field":"c1","type":"nominal","axis":null},"x2":{"field":"c2"},"y":{"field":"y","type":"quantitative","axis":null}}},
{"mark":{"type":"rule","color":"#1a1a1a","strokeWidth":2,"xOffset":3,"y2Offset":5},"encoding":{"x":{"field":"c1","type":"nominal","axis":null},"y":{"field":"y","type":"quantitative","axis":null},"y2":{"field":"y"}}},
{"mark":{"type":"rule","color":"#1a1a1a","strokeWidth":2,"xOffset":-3,"y2Offset":5},"encoding":{"x":{"field":"c2","type":"nominal","axis":null},"y":{"field":"y","type":"quantitative","axis":null},"y2":{"field":"y"}}},
{"mark":{"type":"text","fontSize":22,"dx":29,"dy":2,"baseline":"alphabetic","color":"#1a1a1a"},"encoding":{"x":{"field":"at","type":"nominal","axis":null},"y":{"field":"y","type":"quantitative","axis":null},"text":{"field":"t"}}}]},
{"data":{"values":[{}]},"layer":[
{"mark":{"type":"rule","color":"#7a7a7a","strokeWidth":1.5},"encoding":{"x":{"value":0},"x2":{"value":"width"},"y":{"datum":2143,"axis":null}}},
{"mark":{"type":"rule","color":"#7a7a7a","strokeWidth":1.5},"encoding":{"x":{"value":0},"x2":{"value":"width"},"y":{"datum":-61,"axis":null}}}]}]},
{"resolve":{"axis":{"x":"independent","y":"independent"}},"layer":[
{"data":{"name":"smp"},"transform":[{"filter":"datum.sp=='R.sanguineus'"}],"mark":{"type":"circle","size":60,"opacity":0.5,"color":"#0A9E6E"},"encoding":{"xOffset":{"field":"j","type":"quantitative","scale":{"domain":[-0.7,0.7]}},"y":{"field":"s","type":"quantitative","scale":{"domain":[-0.28,8.04],"range":[525,319],"nice":false,"zero":false},"axis":null}}},
{"data":{"name":"box"},"transform":[{"filter":"datum.g=='G2'&&datum.m=='s'"}],"layer":[
{"mark":{"type":"rule","color":"#333","strokeWidth":2},"encoding":{"y":{"field":"lo","type":"quantitative","axis":null},"y2":{"field":"hi"}}},
{"mark":{"type":"bar","width":44,"fill":"#0A9E6E","stroke":"#333","strokeWidth":2},"encoding":{"y":{"field":"q1","type":"quantitative","axis":null},"y2":{"field":"q3"}}},
{"mark":{"type":"tick","size":44,"thickness":4.5,"color":"#333"},"encoding":{"y":{"field":"md","type":"quantitative","axis":null}}},
{"mark":{"type":"tick","orient":"vertical","size":6,"thickness":1.5,"color":"#333","yOffset":3},"encoding":{"y":{"datum":-0.28,"axis":null}}}]},
{"data":{"name":"sig"},"transform":[{"filter":"datum.g=='G2'&&datum.m=='s'"}],"layer":[
{"mark":{"type":"rule","color":"#1a1a1a","strokeWidth":2,"xOffset":3,"x2Offset":-3},"encoding":{"x":{"field":"c1","type":"nominal","axis":null},"x2":{"field":"c2"},"y":{"field":"y","type":"quantitative","axis":null}}},
{"mark":{"type":"rule","color":"#1a1a1a","strokeWidth":2,"xOffset":3,"y2Offset":5},"encoding":{"x":{"field":"c1","type":"nominal","axis":null},"y":{"field":"y","type":"quantitative","axis":null},"y2":{"field":"y"}}},
{"mark":{"type":"rule","color":"#1a1a1a","strokeWidth":2,"xOffset":-3,"y2Offset":5},"encoding":{"x":{"field":"c2","type":"nominal","axis":null},"y":{"field":"y","type":"quantitative","axis":null},"y2":{"field":"y"}}},
{"mark":{"type":"text","fontSize":22,"dx":29,"dy":2,"baseline":"alphabetic","color":"#1a1a1a"},"encoding":{"x":{"field":"at","type":"nominal","axis":null},"y":{"field":"y","type":"quantitative","axis":null},"text":{"field":"t"}}}]},
{"data":{"values":[{}]},"layer":[
{"mark":{"type":"rule","color":"#7a7a7a","strokeWidth":1.5},"encoding":{"x":{"value":0},"x2":{"value":"width"},"y":{"datum":8.04,"axis":null}}},
{"mark":{"type":"rule","color":"#7a7a7a","strokeWidth":1.5},"encoding":{"x":{"value":0},"x2":{"value":"width"},"y":{"datum":-0.28,"axis":null}}}]}]},
{"resolve":{"axis":{"x":"independent","y":"independent"}},"layer":[
{"data":{"name":"smp"},"transform":[{"filter":"datum.sp=='R.sanguineus'"}],"mark":{"type":"circle","size":60,"opacity":0.45,"color":"#D3789F"},"encoding":{"x":{"field":"dv","type":"nominal","title":null,"axis":{"labelAngle":-27,"labelAlign":"center","labelBaseline":"middle","labelPadding":42,"labelOffset":-17,"labelFontSize":22,"labelOverlap":false,"labelBound":false,"labelFlush":false}},"xOffset":{"field":"j","type":"quantitative","scale":{"domain":[-0.7,0.7]}},"y":{"field":"p","type":"quantitative","scale":{"domain":[-0.026,1.116],"range":[788,572],"nice":false,"zero":false},"axis":null}}},
{"data":{"name":"box"},"transform":[{"filter":"datum.g=='G2'&&datum.m=='p'"}],"layer":[
{"mark":{"type":"rule","color":"#333","strokeWidth":2},"encoding":{"y":{"field":"lo","type":"quantitative","axis":null},"y2":{"field":"hi"}}},
{"mark":{"type":"bar","width":44,"fill":"#D3789F","stroke":"#333","strokeWidth":2},"encoding":{"y":{"field":"q1","type":"quantitative","axis":null},"y2":{"field":"q3"}}},
{"mark":{"type":"tick","size":44,"thickness":4.5,"color":"#333"},"encoding":{"y":{"field":"md","type":"quantitative","axis":null}}}]},
{"data":{"name":"sig"},"transform":[{"filter":"datum.g=='G2'&&datum.m=='p'"}],"layer":[
{"mark":{"type":"rule","color":"#1a1a1a","strokeWidth":2,"xOffset":3,"x2Offset":-3},"encoding":{"x":{"field":"c1","type":"nominal","axis":null},"x2":{"field":"c2"},"y":{"field":"y","type":"quantitative","axis":null}}},
{"mark":{"type":"rule","color":"#1a1a1a","strokeWidth":2,"xOffset":3,"y2Offset":5},"encoding":{"x":{"field":"c1","type":"nominal","axis":null},"y":{"field":"y","type":"quantitative","axis":null},"y2":{"field":"y"}}},
{"mark":{"type":"rule","color":"#1a1a1a","strokeWidth":2,"xOffset":-3,"y2Offset":5},"encoding":{"x":{"field":"c2","type":"nominal","axis":null},"y":{"field":"y","type":"quantitative","axis":null},"y2":{"field":"y"}}},
{"mark":{"type":"text","fontSize":22,"dx":29,"dy":2,"baseline":"alphabetic","color":"#1a1a1a"},"encoding":{"x":{"field":"at","type":"nominal","axis":null},"y":{"field":"y","type":"quantitative","axis":null},"text":{"field":"t"}}}]},
{"data":{"values":[{}]},"layer":[
{"mark":{"type":"rule","color":"#7a7a7a","strokeWidth":1.5},"encoding":{"x":{"value":0},"x2":{"value":"width"},"y":{"datum":1.116,"axis":null}}},
{"mark":{"type":"rule","color":"#000","strokeWidth":2.5,"strokeDash":[8,5],"y2Offset":132},"encoding":{"x":{"value":"width"},"y":{"value":0},"y2":{"value":"height"}}},
{"mark":{"type":"rule","color":"#1a1a1a","strokeWidth":3,"yOffset":132},"encoding":{"x":{"value":0},"x2":{"value":"width"},"y":{"value":"height"}}}]}]}
]},
{"width":178,"height":788,"resolve":{"scale":{"x":"independent","y":"independent"},"axis":{"x":"independent","y":"independent"}},
"encoding":{"x":{"field":"sx","type":"nominal","scale":{"type":"band","domain":["Male","Female"],"paddingInner":0,"paddingOuter":0.5},"axis":null}},
"layer":[
{"data":{"values":[{"h":"Sex"}]},"layer":[
{"mark":{"type":"rect","color":"#88CD8A","xOffset":5,"x2Offset":-8},"encoding":{"x":{"value":0},"x2":{"value":"width"},"y":{"datum":0,"scale":{"domain":[0,1],"range":[0,49]},"axis":null},"y2":{"datum":1}}},
{"mark":{"type":"text","fontSize":20,"fontWeight":"bold","color":"#000","baseline":"middle","align":"center"},"encoding":{"text":{"field":"h"},"x":{"field":"h","type":"nominal","scale":{"type":"band","paddingInner":0,"paddingOuter":0},"axis":null},"y":{"datum":0.5,"axis":null}}}]},
{"resolve":{"axis":{"x":"independent","y":"independent"}},"layer":[
{"data":{"name":"smp"},"transform":[{"filter":"datum.sp=='R.sanguineus'"}],"mark":{"type":"circle","size":60,"opacity":0.5,"color":"#EE7E2F"},"encoding":{"xOffset":{"field":"j","type":"quantitative","scale":{"domain":[-0.7,0.7]}},"y":{"field":"o","type":"quantitative","scale":{"domain":[-61,2143],"range":[270,54],"nice":false,"zero":false},"axis":null}}},
{"data":{"name":"box"},"transform":[{"filter":"datum.g=='G3'&&datum.m=='o'"}],"layer":[
{"mark":{"type":"rule","color":"#333","strokeWidth":2},"encoding":{"y":{"field":"lo","type":"quantitative","axis":null},"y2":{"field":"hi"}}},
{"mark":{"type":"bar","width":44,"fill":"#EE7E2F","stroke":"#333","strokeWidth":2},"encoding":{"y":{"field":"q1","type":"quantitative","axis":null},"y2":{"field":"q3"}}},
{"mark":{"type":"tick","size":44,"thickness":4.5,"color":"#333"},"encoding":{"y":{"field":"md","type":"quantitative","axis":null}}},
{"mark":{"type":"tick","orient":"vertical","size":6,"thickness":1.5,"color":"#333","yOffset":3},"encoding":{"y":{"datum":-61,"axis":null}}}]},
{"data":{"values":[{}]},"layer":[
{"mark":{"type":"rule","color":"#7a7a7a","strokeWidth":1.5},"encoding":{"x":{"value":0},"x2":{"value":"width"},"y":{"datum":2143,"axis":null}}},
{"mark":{"type":"rule","color":"#7a7a7a","strokeWidth":1.5},"encoding":{"x":{"value":0},"x2":{"value":"width"},"y":{"datum":-61,"axis":null}}}]}]},
{"resolve":{"axis":{"x":"independent","y":"independent"}},"layer":[
{"data":{"name":"smp"},"transform":[{"filter":"datum.sp=='R.sanguineus'"}],"mark":{"type":"circle","size":60,"opacity":0.5,"color":"#0A9E6E"},"encoding":{"xOffset":{"field":"j","type":"quantitative","scale":{"domain":[-0.7,0.7]}},"y":{"field":"s","type":"quantitative","scale":{"domain":[-0.28,8.04],"range":[525,319],"nice":false,"zero":false},"axis":null}}},
{"data":{"name":"box"},"transform":[{"filter":"datum.g=='G3'&&datum.m=='s'"}],"layer":[
{"mark":{"type":"rule","color":"#333","strokeWidth":2},"encoding":{"y":{"field":"lo","type":"quantitative","axis":null},"y2":{"field":"hi"}}},
{"mark":{"type":"bar","width":44,"fill":"#0A9E6E","stroke":"#333","strokeWidth":2},"encoding":{"y":{"field":"q1","type":"quantitative","axis":null},"y2":{"field":"q3"}}},
{"mark":{"type":"tick","size":44,"thickness":4.5,"color":"#333"},"encoding":{"y":{"field":"md","type":"quantitative","axis":null}}},
{"mark":{"type":"tick","orient":"vertical","size":6,"thickness":1.5,"color":"#333","yOffset":3},"encoding":{"y":{"datum":-0.28,"axis":null}}}]},
{"data":{"name":"sig"},"transform":[{"filter":"datum.g=='G3'&&datum.m=='s'"}],"layer":[
{"mark":{"type":"rule","color":"#1a1a1a","strokeWidth":2,"xOffset":3,"x2Offset":-3},"encoding":{"x":{"field":"c1","type":"nominal","axis":null},"x2":{"field":"c2"},"y":{"field":"y","type":"quantitative","axis":null}}},
{"mark":{"type":"rule","color":"#1a1a1a","strokeWidth":2,"xOffset":3,"y2Offset":5},"encoding":{"x":{"field":"c1","type":"nominal","axis":null},"y":{"field":"y","type":"quantitative","axis":null},"y2":{"field":"y"}}},
{"mark":{"type":"rule","color":"#1a1a1a","strokeWidth":2,"xOffset":-3,"y2Offset":5},"encoding":{"x":{"field":"c2","type":"nominal","axis":null},"y":{"field":"y","type":"quantitative","axis":null},"y2":{"field":"y"}}},
{"mark":{"type":"text","fontSize":22,"dx":29,"dy":2,"baseline":"alphabetic","color":"#1a1a1a"},"encoding":{"x":{"field":"at","type":"nominal","axis":null},"y":{"field":"y","type":"quantitative","axis":null},"text":{"field":"t"}}}]},
{"data":{"values":[{}]},"layer":[
{"mark":{"type":"rule","color":"#7a7a7a","strokeWidth":1.5},"encoding":{"x":{"value":0},"x2":{"value":"width"},"y":{"datum":8.04,"axis":null}}},
{"mark":{"type":"rule","color":"#7a7a7a","strokeWidth":1.5},"encoding":{"x":{"value":0},"x2":{"value":"width"},"y":{"datum":-0.28,"axis":null}}}]}]},
{"resolve":{"axis":{"x":"independent","y":"independent"}},"layer":[
{"data":{"name":"smp"},"transform":[{"filter":"datum.sp=='R.sanguineus'"}],"mark":{"type":"circle","size":60,"opacity":0.45,"color":"#D3789F"},"encoding":{"x":{"field":"sx","type":"nominal","title":null,"axis":{"labelAngle":-27,"labelAlign":"center","labelBaseline":"middle","labelPadding":42,"labelOffset":-17,"labelFontSize":22,"labelOverlap":false,"labelBound":false,"labelFlush":false}},"xOffset":{"field":"j","type":"quantitative","scale":{"domain":[-0.7,0.7]}},"y":{"field":"p","type":"quantitative","scale":{"domain":[-0.026,1.116],"range":[788,572],"nice":false,"zero":false},"axis":null}}},
{"data":{"name":"box"},"transform":[{"filter":"datum.g=='G3'&&datum.m=='p'"}],"layer":[
{"mark":{"type":"rule","color":"#333","strokeWidth":2},"encoding":{"y":{"field":"lo","type":"quantitative","axis":null},"y2":{"field":"hi"}}},
{"mark":{"type":"bar","width":44,"fill":"#D3789F","stroke":"#333","strokeWidth":2},"encoding":{"y":{"field":"q1","type":"quantitative","axis":null},"y2":{"field":"q3"}}},
{"mark":{"type":"tick","size":44,"thickness":4.5,"color":"#333"},"encoding":{"y":{"field":"md","type":"quantitative","axis":null}}}]},
{"data":{"name":"sig"},"transform":[{"filter":"datum.g=='G3'&&datum.m=='p'"}],"layer":[
{"mark":{"type":"rule","color":"#1a1a1a","strokeWidth":2,"xOffset":3,"x2Offset":-3},"encoding":{"x":{"field":"c1","type":"nominal","axis":null},"x2":{"field":"c2"},"y":{"field":"y","type":"quantitative","axis":null}}},
{"mark":{"type":"rule","color":"#1a1a1a","strokeWidth":2,"xOffset":3,"y2Offset":5},"encoding":{"x":{"field":"c1","type":"nominal","axis":null},"y":{"field":"y","type":"quantitative","axis":null},"y2":{"field":"y"}}},
{"mark":{"type":"rule","color":"#1a1a1a","strokeWidth":2,"xOffset":-3,"y2Offset":5},"encoding":{"x":{"field":"c2","type":"nominal","axis":null},"y":{"field":"y","type":"quantitative","axis":null},"y2":{"field":"y"}}},
{"mark":{"type":"text","fontSize":22,"dx":29,"dy":2,"baseline":"alphabetic","color":"#1a1a1a"},"encoding":{"x":{"field":"at","type":"nominal","axis":null},"y":{"field":"y","type":"quantitative","axis":null},"text":{"field":"t"}}}]},
{"data":{"values":[{}]},"layer":[
{"mark":{"type":"rule","color":"#7a7a7a","strokeWidth":1.5},"encoding":{"x":{"value":0},"x2":{"value":"width"},"y":{"datum":1.116,"axis":null}}},
{"mark":{"type":"rule","color":"#000","strokeWidth":2.5,"strokeDash":[8,5],"y2Offset":132},"encoding":{"x":{"value":"width"},"y":{"value":0},"y2":{"value":"height"}}},
{"mark":{"type":"rule","color":"#1a1a1a","strokeWidth":3,"yOffset":132},"encoding":{"x":{"value":0},"x2":{"value":"width"},"y":{"value":"height"}}}]}]}
]},
{"width":346,"height":788,"resolve":{"scale":{"x":"independent","y":"independent"},"axis":{"x":"independent","y":"independent"}},
"encoding":{"x":{"field":"geo","type":"nominal","scale":{"type":"band","domain":["BX","CZ","SY","WS","WZ"],"paddingInner":0,"paddingOuter":0.5},"axis":null}},
"layer":[
{"data":{"values":[{"h":"Geographical location"}]},"layer":[
{"mark":{"type":"rect","color":"#AAEDD9","xOffset":6,"x2Offset":-6},"encoding":{"x":{"value":0},"x2":{"value":"width"},"y":{"datum":0,"scale":{"domain":[0,1],"range":[0,49]},"axis":null},"y2":{"datum":1}}},
{"mark":{"type":"text","fontSize":20,"fontWeight":"bold","color":"#000","baseline":"middle","align":"center"},"encoding":{"text":{"field":"h"},"x":{"field":"h","type":"nominal","scale":{"type":"band","paddingInner":0,"paddingOuter":0},"axis":null},"y":{"datum":0.5,"axis":null}}}]},
{"resolve":{"axis":{"x":"independent","y":"independent"}},"layer":[
{"data":{"name":"smp"},"transform":[{"filter":"datum.sp=='R.sanguineus'"}],"mark":{"type":"circle","size":60,"opacity":0.5,"color":"#EE7E2F"},"encoding":{"xOffset":{"field":"j","type":"quantitative","scale":{"domain":[-0.7,0.7]}},"y":{"field":"o","type":"quantitative","scale":{"domain":[-61,2143],"range":[270,54],"nice":false,"zero":false},"axis":null}}},
{"data":{"name":"box"},"transform":[{"filter":"datum.g=='G4'&&datum.m=='o'"}],"layer":[
{"mark":{"type":"rule","color":"#333","strokeWidth":2},"encoding":{"y":{"field":"lo","type":"quantitative","axis":null},"y2":{"field":"hi"}}},
{"mark":{"type":"bar","width":44,"fill":"#EE7E2F","stroke":"#333","strokeWidth":2},"encoding":{"y":{"field":"q1","type":"quantitative","axis":null},"y2":{"field":"q3"}}},
{"mark":{"type":"tick","size":44,"thickness":4.5,"color":"#333"},"encoding":{"y":{"field":"md","type":"quantitative","axis":null}}},
{"mark":{"type":"tick","orient":"vertical","size":6,"thickness":1.5,"color":"#333","yOffset":3},"encoding":{"y":{"datum":-61,"axis":null}}}]},
{"data":{"values":[{}]},"layer":[
{"mark":{"type":"rule","color":"#7a7a7a","strokeWidth":1.5},"encoding":{"x":{"value":0},"x2":{"value":"width"},"y":{"datum":2143,"axis":null}}},
{"mark":{"type":"rule","color":"#7a7a7a","strokeWidth":1.5},"encoding":{"x":{"value":0},"x2":{"value":"width"},"y":{"datum":-61,"axis":null}}}]}]},
{"resolve":{"axis":{"x":"independent","y":"independent"}},"layer":[
{"data":{"name":"smp"},"transform":[{"filter":"datum.sp=='R.sanguineus'"}],"mark":{"type":"circle","size":60,"opacity":0.5,"color":"#0A9E6E"},"encoding":{"xOffset":{"field":"j","type":"quantitative","scale":{"domain":[-0.7,0.7]}},"y":{"field":"s","type":"quantitative","scale":{"domain":[-0.28,8.04],"range":[525,319],"nice":false,"zero":false},"axis":null}}},
{"data":{"name":"box"},"transform":[{"filter":"datum.g=='G4'&&datum.m=='s'"}],"layer":[
{"mark":{"type":"rule","color":"#333","strokeWidth":2},"encoding":{"y":{"field":"lo","type":"quantitative","axis":null},"y2":{"field":"hi"}}},
{"mark":{"type":"bar","width":44,"fill":"#0A9E6E","stroke":"#333","strokeWidth":2},"encoding":{"y":{"field":"q1","type":"quantitative","axis":null},"y2":{"field":"q3"}}},
{"mark":{"type":"tick","size":44,"thickness":4.5,"color":"#333"},"encoding":{"y":{"field":"md","type":"quantitative","axis":null}}},
{"mark":{"type":"tick","orient":"vertical","size":6,"thickness":1.5,"color":"#333","yOffset":3},"encoding":{"y":{"datum":-0.28,"axis":null}}}]},
{"data":{"name":"sig"},"transform":[{"filter":"datum.g=='G4'&&datum.m=='s'"}],"layer":[
{"mark":{"type":"rule","color":"#1a1a1a","strokeWidth":2,"xOffset":3,"x2Offset":-3},"encoding":{"x":{"field":"c1","type":"nominal","axis":null},"x2":{"field":"c2"},"y":{"field":"y","type":"quantitative","axis":null}}},
{"mark":{"type":"rule","color":"#1a1a1a","strokeWidth":2,"xOffset":3,"y2Offset":5},"encoding":{"x":{"field":"c1","type":"nominal","axis":null},"y":{"field":"y","type":"quantitative","axis":null},"y2":{"field":"y"}}},
{"mark":{"type":"rule","color":"#1a1a1a","strokeWidth":2,"xOffset":-3,"y2Offset":5},"encoding":{"x":{"field":"c2","type":"nominal","axis":null},"y":{"field":"y","type":"quantitative","axis":null},"y2":{"field":"y"}}},
{"mark":{"type":"text","fontSize":22,"dx":29,"dy":2,"baseline":"alphabetic","color":"#1a1a1a"},"encoding":{"x":{"field":"at","type":"nominal","axis":null},"y":{"field":"y","type":"quantitative","axis":null},"text":{"field":"t"}}}]},
{"data":{"values":[{}]},"layer":[
{"mark":{"type":"rule","color":"#7a7a7a","strokeWidth":1.5},"encoding":{"x":{"value":0},"x2":{"value":"width"},"y":{"datum":8.04,"axis":null}}},
{"mark":{"type":"rule","color":"#7a7a7a","strokeWidth":1.5},"encoding":{"x":{"value":0},"x2":{"value":"width"},"y":{"datum":-0.28,"axis":null}}}]}]},
{"resolve":{"axis":{"x":"independent","y":"independent"}},"layer":[
{"data":{"name":"smp"},"transform":[{"filter":"datum.sp=='R.sanguineus'"}],"mark":{"type":"circle","size":60,"opacity":0.45,"color":"#D3789F"},"encoding":{"x":{"field":"geo","type":"nominal","title":null,"axis":{"labelAngle":-27,"labelAlign":"center","labelBaseline":"middle","labelPadding":42,"labelOffset":-17,"labelFontSize":22,"labelOverlap":false,"labelBound":false,"labelFlush":false}},"xOffset":{"field":"j","type":"quantitative","scale":{"domain":[-0.7,0.7]}},"y":{"field":"p","type":"quantitative","scale":{"domain":[-0.026,1.116],"range":[788,572],"nice":false,"zero":false},"axis":null}}},
{"data":{"name":"box"},"transform":[{"filter":"datum.g=='G4'&&datum.m=='p'"}],"layer":[
{"mark":{"type":"rule","color":"#333","strokeWidth":2},"encoding":{"y":{"field":"lo","type":"quantitative","axis":null},"y2":{"field":"hi"}}},
{"mark":{"type":"bar","width":44,"fill":"#D3789F","stroke":"#333","strokeWidth":2},"encoding":{"y":{"field":"q1","type":"quantitative","axis":null},"y2":{"field":"q3"}}},
{"mark":{"type":"tick","size":44,"thickness":4.5,"color":"#333"},"encoding":{"y":{"field":"md","type":"quantitative","axis":null}}}]},
{"data":{"name":"sig"},"transform":[{"filter":"datum.g=='G4'&&datum.m=='p'"}],"layer":[
{"mark":{"type":"rule","color":"#1a1a1a","strokeWidth":2,"xOffset":3,"x2Offset":-3},"encoding":{"x":{"field":"c1","type":"nominal","axis":null},"x2":{"field":"c2"},"y":{"field":"y","type":"quantitative","axis":null}}},
{"mark":{"type":"rule","color":"#1a1a1a","strokeWidth":2,"xOffset":3,"y2Offset":5},"encoding":{"x":{"field":"c1","type":"nominal","axis":null},"y":{"field":"y","type":"quantitative","axis":null},"y2":{"field":"y"}}},
{"mark":{"type":"rule","color":"#1a1a1a","strokeWidth":2,"xOffset":-3,"y2Offset":5},"encoding":{"x":{"field":"c2","type":"nominal","axis":null},"y":{"field":"y","type":"quantitative","axis":null},"y2":{"field":"y"}}},
{"transform":[{"filter":"datum.half"}],"mark":{"type":"text","fontSize":22,"dx":29,"dy":2,"baseline":"alphabetic","color":"#1a1a1a"},"encoding":{"x":{"field":"at","type":"nominal","axis":null},"y":{"field":"y","type":"quantitative","axis":null},"text":{"field":"t"}}},
{"transform":[{"filter":"!datum.half"}],"mark":{"type":"text","fontSize":22,"dy":2,"baseline":"alphabetic","color":"#1a1a1a"},"encoding":{"x":{"field":"at","type":"nominal","axis":null},"y":{"field":"y","type":"quantitative","axis":null},"text":{"field":"t"}}}]},
{"data":{"values":[{}]},"layer":[
{"mark":{"type":"rule","color":"#7a7a7a","strokeWidth":1.5},"encoding":{"x":{"value":0},"x2":{"value":"width"},"y":{"datum":1.116,"axis":null}}},
{"mark":{"type":"rule","color":"#000","strokeWidth":2.5,"strokeDash":[8,5],"y2Offset":132},"encoding":{"x":{"value":"width"},"y":{"value":0},"y2":{"value":"height"}}},
{"mark":{"type":"rule","color":"#1a1a1a","strokeWidth":3,"yOffset":132},"encoding":{"x":{"value":0},"x2":{"value":"width"},"y":{"value":"height"}}},
{"mark":{"type":"text","text":"R.sanguineus","fontSize":23,"fontWeight":"bold","fontStyle":"italic","color":"#1a1a1a","dx":-24,"dy":164,"baseline":"middle","align":"center"},"encoding":{"x":{"datum":"BX","axis":null},"y":{"value":"height"}}}]}]}
]},
{"width":232,"height":788,"resolve":{"scale":{"x":"independent","y":"independent"},"axis":{"x":"independent","y":"independent"}},
"encoding":{"x":{"field":"tm","type":"nominal","scale":{"type":"band","domain":["First","Second","Third"],"paddingInner":0,"paddingOuter":0.5},"axis":null}},
"layer":[
{"data":{"values":[{"h":"Time"}]},"layer":[
{"mark":{"type":"rect","color":"#88CD8A","xOffset":6,"x2Offset":-5},"encoding":{"x":{"value":0},"x2":{"value":"width"},"y":{"datum":0,"scale":{"domain":[0,1],"range":[0,49]},"axis":null},"y2":{"datum":1}}},
{"mark":{"type":"text","fontSize":20,"fontWeight":"bold","color":"#000","baseline":"middle","align":"center"},"encoding":{"text":{"field":"h"},"x":{"field":"h","type":"nominal","scale":{"type":"band","paddingInner":0,"paddingOuter":0},"axis":null},"y":{"datum":0.5,"axis":null}}}]},
{"resolve":{"axis":{"x":"independent","y":"independent"}},"layer":[
{"data":{"name":"smp"},"transform":[{"filter":"datum.sp=='R.sanguineus'&&isValid(datum.tm)"}],"mark":{"type":"circle","size":60,"opacity":0.5,"color":"#EE7E2F"},"encoding":{"xOffset":{"field":"j","type":"quantitative","scale":{"domain":[-0.7,0.7]}},"y":{"field":"o","type":"quantitative","scale":{"domain":[-61,2143],"range":[270,54],"nice":false,"zero":false},"axis":null}}},
{"data":{"name":"box"},"transform":[{"filter":"datum.g=='G5'&&datum.m=='o'"}],"layer":[
{"mark":{"type":"rule","color":"#333","strokeWidth":2},"encoding":{"y":{"field":"lo","type":"quantitative","axis":null},"y2":{"field":"hi"}}},
{"mark":{"type":"bar","width":44,"fill":"#EE7E2F","stroke":"#333","strokeWidth":2},"encoding":{"y":{"field":"q1","type":"quantitative","axis":null},"y2":{"field":"q3"}}},
{"mark":{"type":"tick","size":44,"thickness":4.5,"color":"#333"},"encoding":{"y":{"field":"md","type":"quantitative","axis":null}}},
{"mark":{"type":"tick","orient":"vertical","size":6,"thickness":1.5,"color":"#333","yOffset":3},"encoding":{"y":{"datum":-61,"axis":null}}}]},
{"data":{"name":"sig"},"transform":[{"filter":"datum.g=='G5'&&datum.m=='o'"}],"layer":[
{"mark":{"type":"rule","color":"#1a1a1a","strokeWidth":2,"xOffset":3,"x2Offset":-3},"encoding":{"x":{"field":"c1","type":"nominal","axis":null},"x2":{"field":"c2"},"y":{"field":"y","type":"quantitative","axis":null}}},
{"mark":{"type":"rule","color":"#1a1a1a","strokeWidth":2,"xOffset":3,"y2Offset":5},"encoding":{"x":{"field":"c1","type":"nominal","axis":null},"y":{"field":"y","type":"quantitative","axis":null},"y2":{"field":"y"}}},
{"mark":{"type":"rule","color":"#1a1a1a","strokeWidth":2,"xOffset":-3,"y2Offset":5},"encoding":{"x":{"field":"c2","type":"nominal","axis":null},"y":{"field":"y","type":"quantitative","axis":null},"y2":{"field":"y"}}},
{"mark":{"type":"text","fontSize":22,"dx":29,"dy":2,"baseline":"alphabetic","color":"#1a1a1a"},"encoding":{"x":{"field":"at","type":"nominal","axis":null},"y":{"field":"y","type":"quantitative","axis":null},"text":{"field":"t"}}}]},
{"data":{"values":[{}]},"layer":[
{"mark":{"type":"rule","color":"#7a7a7a","strokeWidth":1.5},"encoding":{"x":{"value":0},"x2":{"value":"width"},"y":{"datum":2143,"axis":null}}},
{"mark":{"type":"rule","color":"#7a7a7a","strokeWidth":1.5},"encoding":{"x":{"value":0},"x2":{"value":"width"},"y":{"datum":-61,"axis":null}}}]}]},
{"resolve":{"axis":{"x":"independent","y":"independent"}},"layer":[
{"data":{"name":"smp"},"transform":[{"filter":"datum.sp=='R.sanguineus'&&isValid(datum.tm)"}],"mark":{"type":"circle","size":60,"opacity":0.5,"color":"#0A9E6E"},"encoding":{"xOffset":{"field":"j","type":"quantitative","scale":{"domain":[-0.7,0.7]}},"y":{"field":"s","type":"quantitative","scale":{"domain":[-0.28,8.04],"range":[525,319],"nice":false,"zero":false},"axis":null}}},
{"data":{"name":"box"},"transform":[{"filter":"datum.g=='G5'&&datum.m=='s'"}],"layer":[
{"mark":{"type":"rule","color":"#333","strokeWidth":2},"encoding":{"y":{"field":"lo","type":"quantitative","axis":null},"y2":{"field":"hi"}}},
{"mark":{"type":"bar","width":44,"fill":"#0A9E6E","stroke":"#333","strokeWidth":2},"encoding":{"y":{"field":"q1","type":"quantitative","axis":null},"y2":{"field":"q3"}}},
{"mark":{"type":"tick","size":44,"thickness":4.5,"color":"#333"},"encoding":{"y":{"field":"md","type":"quantitative","axis":null}}},
{"mark":{"type":"tick","orient":"vertical","size":6,"thickness":1.5,"color":"#333","yOffset":3},"encoding":{"y":{"datum":-0.28,"axis":null}}}]},
{"data":{"name":"sig"},"transform":[{"filter":"datum.g=='G5'&&datum.m=='s'"}],"layer":[
{"mark":{"type":"rule","color":"#1a1a1a","strokeWidth":2,"xOffset":3,"x2Offset":-3},"encoding":{"x":{"field":"c1","type":"nominal","axis":null},"x2":{"field":"c2"},"y":{"field":"y","type":"quantitative","axis":null}}},
{"mark":{"type":"rule","color":"#1a1a1a","strokeWidth":2,"xOffset":3,"y2Offset":5},"encoding":{"x":{"field":"c1","type":"nominal","axis":null},"y":{"field":"y","type":"quantitative","axis":null},"y2":{"field":"y"}}},
{"mark":{"type":"rule","color":"#1a1a1a","strokeWidth":2,"xOffset":-3,"y2Offset":5},"encoding":{"x":{"field":"c2","type":"nominal","axis":null},"y":{"field":"y","type":"quantitative","axis":null},"y2":{"field":"y"}}},
{"mark":{"type":"text","fontSize":22,"dx":29,"dy":2,"baseline":"alphabetic","color":"#1a1a1a"},"encoding":{"x":{"field":"at","type":"nominal","axis":null},"y":{"field":"y","type":"quantitative","axis":null},"text":{"field":"t"}}}]},
{"data":{"values":[{}]},"layer":[
{"mark":{"type":"rule","color":"#7a7a7a","strokeWidth":1.5},"encoding":{"x":{"value":0},"x2":{"value":"width"},"y":{"datum":8.04,"axis":null}}},
{"mark":{"type":"rule","color":"#7a7a7a","strokeWidth":1.5},"encoding":{"x":{"value":0},"x2":{"value":"width"},"y":{"datum":-0.28,"axis":null}}}]}]},
{"resolve":{"axis":{"x":"independent","y":"independent"}},"layer":[
{"data":{"name":"smp"},"transform":[{"filter":"datum.sp=='R.sanguineus'&&isValid(datum.tm)"}],"mark":{"type":"circle","size":60,"opacity":0.45,"color":"#D3789F"},"encoding":{"x":{"field":"tm","type":"nominal","title":null,"axis":{"labelAngle":-27,"labelAlign":"center","labelBaseline":"middle","labelPadding":42,"labelOffset":-17,"labelFontSize":22,"labelOverlap":false,"labelBound":false,"labelFlush":false}},"xOffset":{"field":"j","type":"quantitative","scale":{"domain":[-0.7,0.7]}},"y":{"field":"p","type":"quantitative","scale":{"domain":[-0.026,1.116],"range":[788,572],"nice":false,"zero":false},"axis":null}}},
{"data":{"name":"box"},"transform":[{"filter":"datum.g=='G5'&&datum.m=='p'"}],"layer":[
{"mark":{"type":"rule","color":"#333","strokeWidth":2},"encoding":{"y":{"field":"lo","type":"quantitative","axis":null},"y2":{"field":"hi"}}},
{"mark":{"type":"bar","width":44,"fill":"#D3789F","stroke":"#333","strokeWidth":2},"encoding":{"y":{"field":"q1","type":"quantitative","axis":null},"y2":{"field":"q3"}}},
{"mark":{"type":"tick","size":44,"thickness":4.5,"color":"#333"},"encoding":{"y":{"field":"md","type":"quantitative","axis":null}}}]},
{"data":{"name":"sig"},"transform":[{"filter":"datum.g=='G5'&&datum.m=='p'"}],"layer":[
{"mark":{"type":"rule","color":"#1a1a1a","strokeWidth":2,"xOffset":3,"x2Offset":-3},"encoding":{"x":{"field":"c1","type":"nominal","axis":null},"x2":{"field":"c2"},"y":{"field":"y","type":"quantitative","axis":null}}},
{"mark":{"type":"rule","color":"#1a1a1a","strokeWidth":2,"xOffset":3,"y2Offset":5},"encoding":{"x":{"field":"c1","type":"nominal","axis":null},"y":{"field":"y","type":"quantitative","axis":null},"y2":{"field":"y"}}},
{"mark":{"type":"rule","color":"#1a1a1a","strokeWidth":2,"xOffset":-3,"y2Offset":5},"encoding":{"x":{"field":"c2","type":"nominal","axis":null},"y":{"field":"y","type":"quantitative","axis":null},"y2":{"field":"y"}}},
{"mark":{"type":"text","fontSize":22,"dx":29,"dy":2,"baseline":"alphabetic","color":"#1a1a1a"},"encoding":{"x":{"field":"at","type":"nominal","axis":null},"y":{"field":"y","type":"quantitative","axis":null},"text":{"field":"t"}}}]},
{"data":{"values":[{}]},"layer":[
{"mark":{"type":"rule","color":"#7a7a7a","strokeWidth":1.5},"encoding":{"x":{"value":0},"x2":{"value":"width"},"y":{"datum":1.116,"axis":null}}},
{"mark":{"type":"rule","color":"#000","strokeWidth":2.5,"strokeDash":[8,5]},"encoding":{"x":{"value":"width"},"y":{"value":0},"y2":{"value":"height"}}},
{"mark":{"type":"rule","color":"#1a1a1a","strokeWidth":3,"yOffset":132},"encoding":{"x":{"datum":"Third","axis":null},"x2":{"value":0},"y":{"value":"height"}}},
{"mark":{"type":"rule","color":"#1a1a1a","strokeWidth":3,"yOffset":123,"y2Offset":141},"encoding":{"x":{"datum":"Third","axis":null},"y":{"value":"height"},"y2":{"value":"height"}}}]}]}
]},
{"width":174,"height":788,"resolve":{"scale":{"x":"independent","y":"independent"},"axis":{"x":"independent","y":"independent"}},
"encoding":{"x":{"field":"bm","type":"nominal","scale":{"type":"band","domain":["Feeding","Overfeeding"],"paddingInner":0,"paddingOuter":0.5},"axis":null}},
"layer":[
{"data":{"values":[{"h":"Blood meal\nstatus"}]},"layer":[
{"mark":{"type":"rect","color":"#AAEDD9","xOffset":6,"x2Offset":-6},"encoding":{"x":{"value":0},"x2":{"value":"width"},"y":{"datum":0,"scale":{"domain":[0,1],"range":[0,49]},"axis":null},"y2":{"datum":1}}},
{"mark":{"type":"text","fontSize":20,"fontWeight":"bold","color":"#000","lineBreak":"\n","lineHeight":25,"baseline":"middle","align":"center","dy":-12.5},"encoding":{"text":{"field":"h"},"x":{"field":"h","type":"nominal","scale":{"type":"band","paddingInner":0,"paddingOuter":0},"axis":null},"y":{"datum":0.5,"axis":null}}}]},
{"resolve":{"axis":{"x":"independent","y":"independent"}},"layer":[
{"data":{"name":"smp"},"transform":[{"filter":"datum.sp=='H.hystricis'"}],"mark":{"type":"circle","size":60,"opacity":0.5,"color":"#EE7E2F"},"encoding":{"xOffset":{"field":"j","type":"quantitative","scale":{"domain":[-0.7,0.7]}},"y":{"field":"o","type":"quantitative","scale":{"domain":[-61,2143],"range":[270,54],"nice":false,"zero":false},"axis":null}}},
{"data":{"name":"box"},"transform":[{"filter":"datum.g=='G6'&&datum.m=='o'"}],"layer":[
{"mark":{"type":"rule","color":"#333","strokeWidth":2},"encoding":{"y":{"field":"lo","type":"quantitative","axis":null},"y2":{"field":"hi"}}},
{"mark":{"type":"bar","width":44,"fill":"#EE7E2F","stroke":"#333","strokeWidth":2},"encoding":{"y":{"field":"q1","type":"quantitative","axis":null},"y2":{"field":"q3"}}},
{"mark":{"type":"tick","size":44,"thickness":4.5,"color":"#333"},"encoding":{"y":{"field":"md","type":"quantitative","axis":null}}},
{"mark":{"type":"tick","orient":"vertical","size":6,"thickness":1.5,"color":"#333","yOffset":3},"encoding":{"y":{"datum":-61,"axis":null}}}]},
{"data":{"values":[{}]},"layer":[
{"mark":{"type":"rule","color":"#7a7a7a","strokeWidth":1.5},"encoding":{"x":{"value":0},"x2":{"value":"width"},"y":{"datum":2143,"axis":null}}},
{"mark":{"type":"rule","color":"#7a7a7a","strokeWidth":1.5},"encoding":{"x":{"value":0},"x2":{"value":"width"},"y":{"datum":-61,"axis":null}}}]}]},
{"resolve":{"axis":{"x":"independent","y":"independent"}},"layer":[
{"data":{"name":"smp"},"transform":[{"filter":"datum.sp=='H.hystricis'"}],"mark":{"type":"circle","size":60,"opacity":0.5,"color":"#0A9E6E"},"encoding":{"xOffset":{"field":"j","type":"quantitative","scale":{"domain":[-0.7,0.7]}},"y":{"field":"s","type":"quantitative","scale":{"domain":[-0.28,8.04],"range":[525,319],"nice":false,"zero":false},"axis":null}}},
{"data":{"name":"box"},"transform":[{"filter":"datum.g=='G6'&&datum.m=='s'"}],"layer":[
{"mark":{"type":"rule","color":"#333","strokeWidth":2},"encoding":{"y":{"field":"lo","type":"quantitative","axis":null},"y2":{"field":"hi"}}},
{"mark":{"type":"bar","width":44,"fill":"#0A9E6E","stroke":"#333","strokeWidth":2},"encoding":{"y":{"field":"q1","type":"quantitative","axis":null},"y2":{"field":"q3"}}},
{"mark":{"type":"tick","size":44,"thickness":4.5,"color":"#333"},"encoding":{"y":{"field":"md","type":"quantitative","axis":null}}},
{"mark":{"type":"tick","orient":"vertical","size":6,"thickness":1.5,"color":"#333","yOffset":3},"encoding":{"y":{"datum":-0.28,"axis":null}}}]},
{"data":{"name":"sig"},"transform":[{"filter":"datum.g=='G6'&&datum.m=='s'"}],"layer":[
{"mark":{"type":"rule","color":"#1a1a1a","strokeWidth":2,"xOffset":3,"x2Offset":-3},"encoding":{"x":{"field":"c1","type":"nominal","axis":null},"x2":{"field":"c2"},"y":{"field":"y","type":"quantitative","axis":null}}},
{"mark":{"type":"rule","color":"#1a1a1a","strokeWidth":2,"xOffset":3,"y2Offset":5},"encoding":{"x":{"field":"c1","type":"nominal","axis":null},"y":{"field":"y","type":"quantitative","axis":null},"y2":{"field":"y"}}},
{"mark":{"type":"rule","color":"#1a1a1a","strokeWidth":2,"xOffset":-3,"y2Offset":5},"encoding":{"x":{"field":"c2","type":"nominal","axis":null},"y":{"field":"y","type":"quantitative","axis":null},"y2":{"field":"y"}}},
{"mark":{"type":"text","fontSize":22,"dx":29,"dy":2,"baseline":"alphabetic","color":"#1a1a1a"},"encoding":{"x":{"field":"at","type":"nominal","axis":null},"y":{"field":"y","type":"quantitative","axis":null},"text":{"field":"t"}}}]},
{"data":{"values":[{}]},"layer":[
{"mark":{"type":"rule","color":"#7a7a7a","strokeWidth":1.5},"encoding":{"x":{"value":0},"x2":{"value":"width"},"y":{"datum":8.04,"axis":null}}},
{"mark":{"type":"rule","color":"#7a7a7a","strokeWidth":1.5},"encoding":{"x":{"value":0},"x2":{"value":"width"},"y":{"datum":-0.28,"axis":null}}}]}]},
{"resolve":{"axis":{"x":"independent","y":"independent"}},"layer":[
{"data":{"name":"smp"},"transform":[{"filter":"datum.sp=='H.hystricis'"}],"mark":{"type":"circle","size":60,"opacity":0.45,"color":"#D3789F"},"encoding":{"x":{"field":"bm","type":"nominal","title":null,"axis":{"labelAngle":-27,"labelAlign":"center","labelBaseline":"middle","labelPadding":42,"labelOffset":-17,"labelFontSize":22,"labelOverlap":false,"labelBound":false,"labelFlush":false}},"xOffset":{"field":"j","type":"quantitative","scale":{"domain":[-0.7,0.7]}},"y":{"field":"p","type":"quantitative","scale":{"domain":[-0.026,1.116],"range":[788,572],"nice":false,"zero":false},"axis":null}}},
{"data":{"name":"box"},"transform":[{"filter":"datum.g=='G6'&&datum.m=='p'"}],"layer":[
{"mark":{"type":"rule","color":"#333","strokeWidth":2},"encoding":{"y":{"field":"lo","type":"quantitative","axis":null},"y2":{"field":"hi"}}},
{"mark":{"type":"bar","width":44,"fill":"#D3789F","stroke":"#333","strokeWidth":2},"encoding":{"y":{"field":"q1","type":"quantitative","axis":null},"y2":{"field":"q3"}}},
{"mark":{"type":"tick","size":44,"thickness":4.5,"color":"#333"},"encoding":{"y":{"field":"md","type":"quantitative","axis":null}}}]},
{"data":{"values":[{}]},"layer":[
{"mark":{"type":"rule","color":"#7a7a7a","strokeWidth":1.5},"encoding":{"x":{"value":0},"x2":{"value":"width"},"y":{"datum":1.116,"axis":null}}},
{"mark":{"type":"rule","color":"#000","strokeWidth":2.5,"strokeDash":[8,5],"y2Offset":132},"encoding":{"x":{"value":"width"},"y":{"value":0},"y2":{"value":"height"}}},
{"mark":{"type":"rule","color":"#1a1a1a","strokeWidth":3,"yOffset":132},"encoding":{"x":{"datum":"Feeding","axis":null},"x2":{"value":"width"},"y":{"value":"height"}}},
{"mark":{"type":"rule","color":"#1a1a1a","strokeWidth":3,"yOffset":123,"y2Offset":141},"encoding":{"x":{"datum":"Feeding","axis":null},"y":{"value":"height"},"y2":{"value":"height"}}}]}]}
]},
{"width":175,"height":788,"resolve":{"scale":{"x":"independent","y":"independent"},"axis":{"x":"independent","y":"independent"}},
"encoding":{"x":{"field":"dv","type":"nominal","scale":{"type":"band","domain":["Adult","Nymph"],"paddingInner":0,"paddingOuter":0.5},"axis":null}},
"layer":[
{"data":{"values":[{"h":"Developmental\nstage"}]},"layer":[
{"mark":{"type":"rect","color":"#88CD8A","xOffset":6,"x2Offset":-6},"encoding":{"x":{"value":0},"x2":{"value":"width"},"y":{"datum":0,"scale":{"domain":[0,1],"range":[0,49]},"axis":null},"y2":{"datum":1}}},
{"mark":{"type":"text","fontSize":20,"fontWeight":"bold","color":"#000","lineBreak":"\n","lineHeight":25,"baseline":"middle","align":"center","dy":-12.5},"encoding":{"text":{"field":"h"},"x":{"field":"h","type":"nominal","scale":{"type":"band","paddingInner":0,"paddingOuter":0},"axis":null},"y":{"datum":0.5,"axis":null}}}]},
{"resolve":{"axis":{"x":"independent","y":"independent"}},"layer":[
{"data":{"name":"smp"},"transform":[{"filter":"datum.sp=='H.hystricis'"}],"mark":{"type":"circle","size":60,"opacity":0.5,"color":"#EE7E2F"},"encoding":{"xOffset":{"field":"j","type":"quantitative","scale":{"domain":[-0.7,0.7]}},"y":{"field":"o","type":"quantitative","scale":{"domain":[-61,2143],"range":[270,54],"nice":false,"zero":false},"axis":null}}},
{"data":{"name":"box"},"transform":[{"filter":"datum.g=='G7'&&datum.m=='o'"}],"layer":[
{"mark":{"type":"rule","color":"#333","strokeWidth":2},"encoding":{"y":{"field":"lo","type":"quantitative","axis":null},"y2":{"field":"hi"}}},
{"mark":{"type":"bar","width":44,"fill":"#EE7E2F","stroke":"#333","strokeWidth":2},"encoding":{"y":{"field":"q1","type":"quantitative","axis":null},"y2":{"field":"q3"}}},
{"mark":{"type":"tick","size":44,"thickness":4.5,"color":"#333"},"encoding":{"y":{"field":"md","type":"quantitative","axis":null}}},
{"mark":{"type":"tick","orient":"vertical","size":6,"thickness":1.5,"color":"#333","yOffset":3},"encoding":{"y":{"datum":-61,"axis":null}}}]},
{"data":{"values":[{}]},"layer":[
{"mark":{"type":"rule","color":"#7a7a7a","strokeWidth":1.5},"encoding":{"x":{"value":0},"x2":{"value":"width"},"y":{"datum":2143,"axis":null}}},
{"mark":{"type":"rule","color":"#7a7a7a","strokeWidth":1.5},"encoding":{"x":{"value":0},"x2":{"value":"width"},"y":{"datum":-61,"axis":null}}}]}]},
{"resolve":{"axis":{"x":"independent","y":"independent"}},"layer":[
{"data":{"name":"smp"},"transform":[{"filter":"datum.sp=='H.hystricis'"}],"mark":{"type":"circle","size":60,"opacity":0.5,"color":"#0A9E6E"},"encoding":{"xOffset":{"field":"j","type":"quantitative","scale":{"domain":[-0.7,0.7]}},"y":{"field":"s","type":"quantitative","scale":{"domain":[-0.28,8.04],"range":[525,319],"nice":false,"zero":false},"axis":null}}},
{"data":{"name":"box"},"transform":[{"filter":"datum.g=='G7'&&datum.m=='s'"}],"layer":[
{"mark":{"type":"rule","color":"#333","strokeWidth":2},"encoding":{"y":{"field":"lo","type":"quantitative","axis":null},"y2":{"field":"hi"}}},
{"mark":{"type":"bar","width":44,"fill":"#0A9E6E","stroke":"#333","strokeWidth":2},"encoding":{"y":{"field":"q1","type":"quantitative","axis":null},"y2":{"field":"q3"}}},
{"mark":{"type":"tick","size":44,"thickness":4.5,"color":"#333"},"encoding":{"y":{"field":"md","type":"quantitative","axis":null}}},
{"mark":{"type":"tick","orient":"vertical","size":6,"thickness":1.5,"color":"#333","yOffset":3},"encoding":{"y":{"datum":-0.28,"axis":null}}}]},
{"data":{"values":[{}]},"layer":[
{"mark":{"type":"rule","color":"#7a7a7a","strokeWidth":1.5},"encoding":{"x":{"value":0},"x2":{"value":"width"},"y":{"datum":8.04,"axis":null}}},
{"mark":{"type":"rule","color":"#7a7a7a","strokeWidth":1.5},"encoding":{"x":{"value":0},"x2":{"value":"width"},"y":{"datum":-0.28,"axis":null}}}]}]},
{"resolve":{"axis":{"x":"independent","y":"independent"}},"layer":[
{"data":{"name":"smp"},"transform":[{"filter":"datum.sp=='H.hystricis'"}],"mark":{"type":"circle","size":60,"opacity":0.45,"color":"#D3789F"},"encoding":{"x":{"field":"dv","type":"nominal","title":null,"axis":{"labelAngle":-27,"labelAlign":"center","labelBaseline":"middle","labelPadding":42,"labelOffset":-17,"labelFontSize":22,"labelOverlap":false,"labelBound":false,"labelFlush":false}},"xOffset":{"field":"j","type":"quantitative","scale":{"domain":[-0.7,0.7]}},"y":{"field":"p","type":"quantitative","scale":{"domain":[-0.026,1.116],"range":[788,572],"nice":false,"zero":false},"axis":null}}},
{"data":{"name":"box"},"transform":[{"filter":"datum.g=='G7'&&datum.m=='p'"}],"layer":[
{"mark":{"type":"rule","color":"#333","strokeWidth":2},"encoding":{"y":{"field":"lo","type":"quantitative","axis":null},"y2":{"field":"hi"}}},
{"mark":{"type":"bar","width":44,"fill":"#D3789F","stroke":"#333","strokeWidth":2},"encoding":{"y":{"field":"q1","type":"quantitative","axis":null},"y2":{"field":"q3"}}},
{"mark":{"type":"tick","size":44,"thickness":4.5,"color":"#333"},"encoding":{"y":{"field":"md","type":"quantitative","axis":null}}}]},
{"data":{"values":[{}]},"layer":[
{"mark":{"type":"rule","color":"#7a7a7a","strokeWidth":1.5},"encoding":{"x":{"value":0},"x2":{"value":"width"},"y":{"datum":1.116,"axis":null}}},
{"mark":{"type":"rule","color":"#000","strokeWidth":2.5,"strokeDash":[8,5],"y2Offset":132},"encoding":{"x":{"value":"width"},"y":{"value":0},"y2":{"value":"height"}}},
{"mark":{"type":"rule","color":"#1a1a1a","strokeWidth":3,"yOffset":132},"encoding":{"x":{"value":0},"x2":{"value":"width"},"y":{"value":"height"}}},
{"mark":{"type":"text","text":"H.hystrics","fontSize":23,"fontWeight":"bold","fontStyle":"italic","color":"#1a1a1a","dx":29,"dy":164,"baseline":"middle","align":"center"},"encoding":{"x":{"datum":"Adult","axis":null},"y":{"value":"height"}}}]}]}
]},
{"width":174,"height":788,"resolve":{"scale":{"x":"independent","y":"independent"},"axis":{"x":"independent","y":"independent"}},
"encoding":{"x":{"field":"sx","type":"nominal","scale":{"type":"band","domain":["Male","Female"],"paddingInner":0,"paddingOuter":0.5},"axis":null}},
"layer":[
{"data":{"values":[{"h":"Sex"}]},"layer":[
{"mark":{"type":"rect","color":"#AAEDD9","xOffset":6,"x2Offset":-6},"encoding":{"x":{"value":0},"x2":{"value":"width"},"y":{"datum":0,"scale":{"domain":[0,1],"range":[0,49]},"axis":null},"y2":{"datum":1}}},
{"mark":{"type":"text","fontSize":20,"fontWeight":"bold","color":"#000","baseline":"middle","align":"center"},"encoding":{"text":{"field":"h"},"x":{"field":"h","type":"nominal","scale":{"type":"band","paddingInner":0,"paddingOuter":0},"axis":null},"y":{"datum":0.5,"axis":null}}}]},
{"resolve":{"axis":{"x":"independent","y":"independent"}},"layer":[
{"data":{"name":"smp"},"transform":[{"filter":"datum.sp=='H.hystricis'"}],"mark":{"type":"circle","size":60,"opacity":0.5,"color":"#EE7E2F"},"encoding":{"xOffset":{"field":"j","type":"quantitative","scale":{"domain":[-0.7,0.7]}},"y":{"field":"o","type":"quantitative","scale":{"domain":[-61,2143],"range":[270,54],"nice":false,"zero":false},"axis":null}}},
{"data":{"name":"box"},"transform":[{"filter":"datum.g=='G8'&&datum.m=='o'"}],"layer":[
{"mark":{"type":"rule","color":"#333","strokeWidth":2},"encoding":{"y":{"field":"lo","type":"quantitative","axis":null},"y2":{"field":"hi"}}},
{"mark":{"type":"bar","width":44,"fill":"#EE7E2F","stroke":"#333","strokeWidth":2},"encoding":{"y":{"field":"q1","type":"quantitative","axis":null},"y2":{"field":"q3"}}},
{"mark":{"type":"tick","size":44,"thickness":4.5,"color":"#333"},"encoding":{"y":{"field":"md","type":"quantitative","axis":null}}},
{"mark":{"type":"tick","orient":"vertical","size":6,"thickness":1.5,"color":"#333","yOffset":3},"encoding":{"y":{"datum":-61,"axis":null}}}]},
{"data":{"values":[{}]},"layer":[
{"mark":{"type":"rule","color":"#7a7a7a","strokeWidth":1.5},"encoding":{"x":{"value":0},"x2":{"value":"width"},"y":{"datum":2143,"axis":null}}},
{"mark":{"type":"rule","color":"#7a7a7a","strokeWidth":1.5},"encoding":{"x":{"value":0},"x2":{"value":"width"},"y":{"datum":-61,"axis":null}}}]}]},
{"resolve":{"axis":{"x":"independent","y":"independent"}},"layer":[
{"data":{"name":"smp"},"transform":[{"filter":"datum.sp=='H.hystricis'"}],"mark":{"type":"circle","size":60,"opacity":0.5,"color":"#0A9E6E"},"encoding":{"xOffset":{"field":"j","type":"quantitative","scale":{"domain":[-0.7,0.7]}},"y":{"field":"s","type":"quantitative","scale":{"domain":[-0.28,8.04],"range":[525,319],"nice":false,"zero":false},"axis":null}}},
{"data":{"name":"box"},"transform":[{"filter":"datum.g=='G8'&&datum.m=='s'"}],"layer":[
{"mark":{"type":"rule","color":"#333","strokeWidth":2},"encoding":{"y":{"field":"lo","type":"quantitative","axis":null},"y2":{"field":"hi"}}},
{"mark":{"type":"bar","width":44,"fill":"#0A9E6E","stroke":"#333","strokeWidth":2},"encoding":{"y":{"field":"q1","type":"quantitative","axis":null},"y2":{"field":"q3"}}},
{"mark":{"type":"tick","size":44,"thickness":4.5,"color":"#333"},"encoding":{"y":{"field":"md","type":"quantitative","axis":null}}},
{"mark":{"type":"tick","orient":"vertical","size":6,"thickness":1.5,"color":"#333","yOffset":3},"encoding":{"y":{"datum":-0.28,"axis":null}}}]},
{"data":{"values":[{}]},"layer":[
{"mark":{"type":"rule","color":"#7a7a7a","strokeWidth":1.5},"encoding":{"x":{"value":0},"x2":{"value":"width"},"y":{"datum":8.04,"axis":null}}},
{"mark":{"type":"rule","color":"#7a7a7a","strokeWidth":1.5},"encoding":{"x":{"value":0},"x2":{"value":"width"},"y":{"datum":-0.28,"axis":null}}}]}]},
{"resolve":{"axis":{"x":"independent","y":"independent"}},"layer":[
{"data":{"name":"smp"},"transform":[{"filter":"datum.sp=='H.hystricis'"}],"mark":{"type":"circle","size":60,"opacity":0.45,"color":"#D3789F"},"encoding":{"x":{"field":"sx","type":"nominal","title":null,"axis":{"labelAngle":-27,"labelAlign":"center","labelBaseline":"middle","labelPadding":42,"labelOffset":-17,"labelFontSize":22,"labelOverlap":false,"labelBound":false,"labelFlush":false}},"xOffset":{"field":"j","type":"quantitative","scale":{"domain":[-0.7,0.7]}},"y":{"field":"p","type":"quantitative","scale":{"domain":[-0.026,1.116],"range":[788,572],"nice":false,"zero":false},"axis":null}}},
{"data":{"name":"box"},"transform":[{"filter":"datum.g=='G8'&&datum.m=='p'"}],"layer":[
{"mark":{"type":"rule","color":"#333","strokeWidth":2},"encoding":{"y":{"field":"lo","type":"quantitative","axis":null},"y2":{"field":"hi"}}},
{"mark":{"type":"bar","width":44,"fill":"#D3789F","stroke":"#333","strokeWidth":2},"encoding":{"y":{"field":"q1","type":"quantitative","axis":null},"y2":{"field":"q3"}}},
{"mark":{"type":"tick","size":44,"thickness":4.5,"color":"#333"},"encoding":{"y":{"field":"md","type":"quantitative","axis":null}}}]},
{"data":{"values":[{}]},"layer":[
{"mark":{"type":"rule","color":"#7a7a7a","strokeWidth":1.5},"encoding":{"x":{"value":0},"x2":{"value":"width"},"y":{"datum":1.116,"axis":null}}},
{"mark":{"type":"rule","color":"#000","strokeWidth":2.5,"strokeDash":[8,5]},"encoding":{"x":{"value":"width"},"y":{"value":0},"y2":{"value":"height"}}},
{"mark":{"type":"rule","color":"#1a1a1a","strokeWidth":3,"yOffset":132},"encoding":{"x":{"datum":"Female","axis":null},"x2":{"value":0},"y":{"value":"height"}}},
{"mark":{"type":"rule","color":"#1a1a1a","strokeWidth":3,"yOffset":123,"y2Offset":141},"encoding":{"x":{"datum":"Female","axis":null},"y":{"value":"height"},"y2":{"value":"height"}}}]}]}
]},
{"width":150,"height":788,"resolve":{"scale":{"x":"independent","y":"independent"},"axis":{"x":"independent","y":"independent"}},
"encoding":{"x":{"field":"sp","type":"nominal","scale":{"type":"band","domain":["R.sanguineus","H.hystricis"],"paddingInner":0,"paddingOuter":0.3,"align":0.84},"axis":null}},
"layer":[
{"data":{"values":[{"h":"Tick species"}]},"layer":[
{"mark":{"type":"rect","color":"#88CD8A","xOffset":5,"x2Offset":2},"encoding":{"x":{"value":0},"x2":{"value":"width"},"y":{"datum":0,"scale":{"domain":[0,1],"range":[0,49]},"axis":null},"y2":{"datum":1}}},
{"mark":{"type":"text","fontSize":20,"fontWeight":"bold","color":"#000","baseline":"middle","align":"center","dx":3},"encoding":{"text":{"field":"h"},"x":{"field":"h","type":"nominal","scale":{"type":"band","paddingInner":0,"paddingOuter":0},"axis":null},"y":{"datum":0.5,"axis":null}}}]},
{"resolve":{"axis":{"x":"independent","y":"independent"}},"layer":[
{"data":{"name":"smp"},"mark":{"type":"circle","size":60,"opacity":0.5,"color":"#EE7E2F"},"encoding":{"xOffset":{"field":"j","type":"quantitative","scale":{"domain":[-0.7,0.7]}},"y":{"field":"o","type":"quantitative","scale":{"domain":[-61,2143],"range":[270,54],"nice":false,"zero":false},"axis":null}}},
{"data":{"name":"box"},"transform":[{"filter":"datum.g=='G9'&&datum.m=='o'"}],"layer":[
{"mark":{"type":"rule","color":"#333","strokeWidth":2},"encoding":{"y":{"field":"lo","type":"quantitative","axis":null},"y2":{"field":"hi"}}},
{"mark":{"type":"bar","width":44,"fill":"#EE7E2F","stroke":"#333","strokeWidth":2},"encoding":{"y":{"field":"q1","type":"quantitative","axis":null},"y2":{"field":"q3"}}},
{"mark":{"type":"tick","size":44,"thickness":4.5,"color":"#333"},"encoding":{"y":{"field":"md","type":"quantitative","axis":null}}},
{"mark":{"type":"tick","orient":"vertical","size":6,"thickness":1.5,"color":"#333","yOffset":3},"encoding":{"y":{"datum":-61,"axis":null}}}]},
{"data":{"values":[{}]},"layer":[
{"mark":{"type":"rule","color":"#7a7a7a","strokeWidth":1.5},"encoding":{"x":{"value":0},"x2":{"value":"width"},"y":{"datum":2143,"axis":null}}},
{"mark":{"type":"rule","color":"#7a7a7a","strokeWidth":1.5},"encoding":{"x":{"value":0},"x2":{"value":"width"},"y":{"datum":-61,"axis":null}}},
{"mark":{"type":"rule","color":"#7a7a7a","strokeWidth":1.5},"encoding":{"x":{"value":"width"},"y":{"datum":2143,"axis":null},"y2":{"datum":-61}}}]}]},
{"resolve":{"axis":{"x":"independent","y":"independent"}},"layer":[
{"data":{"name":"smp"},"mark":{"type":"circle","size":60,"opacity":0.5,"color":"#0A9E6E"},"encoding":{"xOffset":{"field":"j","type":"quantitative","scale":{"domain":[-0.7,0.7]}},"y":{"field":"s","type":"quantitative","scale":{"domain":[-0.28,8.04],"range":[525,319],"nice":false,"zero":false},"axis":null}}},
{"data":{"name":"box"},"transform":[{"filter":"datum.g=='G9'&&datum.m=='s'"}],"layer":[
{"mark":{"type":"rule","color":"#333","strokeWidth":2},"encoding":{"y":{"field":"lo","type":"quantitative","axis":null},"y2":{"field":"hi"}}},
{"mark":{"type":"bar","width":44,"fill":"#0A9E6E","stroke":"#333","strokeWidth":2},"encoding":{"y":{"field":"q1","type":"quantitative","axis":null},"y2":{"field":"q3"}}},
{"mark":{"type":"tick","size":44,"thickness":4.5,"color":"#333"},"encoding":{"y":{"field":"md","type":"quantitative","axis":null}}},
{"mark":{"type":"tick","orient":"vertical","size":6,"thickness":1.5,"color":"#333","yOffset":3},"encoding":{"y":{"datum":-0.28,"axis":null}}}]},
{"data":{"name":"sig"},"transform":[{"filter":"datum.g=='G9'&&datum.m=='s'"}],"layer":[
{"mark":{"type":"rule","color":"#1a1a1a","strokeWidth":2,"xOffset":3,"x2Offset":-3},"encoding":{"x":{"field":"c1","type":"nominal","axis":null},"x2":{"field":"c2"},"y":{"field":"y","type":"quantitative","axis":null}}},
{"mark":{"type":"rule","color":"#1a1a1a","strokeWidth":2,"xOffset":3,"y2Offset":5},"encoding":{"x":{"field":"c1","type":"nominal","axis":null},"y":{"field":"y","type":"quantitative","axis":null},"y2":{"field":"y"}}},
{"mark":{"type":"rule","color":"#1a1a1a","strokeWidth":2,"xOffset":-3,"y2Offset":5},"encoding":{"x":{"field":"c2","type":"nominal","axis":null},"y":{"field":"y","type":"quantitative","axis":null},"y2":{"field":"y"}}},
{"mark":{"type":"text","fontSize":22,"dx":29,"dy":2,"baseline":"alphabetic","color":"#1a1a1a"},"encoding":{"x":{"field":"at","type":"nominal","axis":null},"y":{"field":"y","type":"quantitative","axis":null},"text":{"field":"t"}}}]},
{"data":{"values":[{}]},"layer":[
{"mark":{"type":"rule","color":"#7a7a7a","strokeWidth":1.5},"encoding":{"x":{"value":0},"x2":{"value":"width"},"y":{"datum":8.04,"axis":null}}},
{"mark":{"type":"rule","color":"#7a7a7a","strokeWidth":1.5},"encoding":{"x":{"value":0},"x2":{"value":"width"},"y":{"datum":-0.28,"axis":null}}},
{"mark":{"type":"rule","color":"#7a7a7a","strokeWidth":1.5},"encoding":{"x":{"value":"width"},"y":{"datum":8.04,"axis":null},"y2":{"datum":-0.28}}}]}]},
{"resolve":{"axis":{"x":"independent","y":"independent"}},"layer":[
{"data":{"name":"smp"},"mark":{"type":"circle","size":60,"opacity":0.45,"color":"#D3789F"},"encoding":{"x":{"field":"sp","type":"nominal","title":null,"axis":{"labelAngle":-27,"labelAlign":"center","labelBaseline":"middle","labelPadding":42,"labelOffset":-17,"labelFontSize":22,"labelOverlap":false,"labelBound":false,"labelFlush":false}},"xOffset":{"field":"j","type":"quantitative","scale":{"domain":[-0.7,0.7]}},"y":{"field":"p","type":"quantitative","scale":{"domain":[-0.026,1.116],"range":[788,572],"nice":false,"zero":false},"axis":null}}},
{"data":{"name":"box"},"transform":[{"filter":"datum.g=='G9'&&datum.m=='p'"}],"layer":[
{"mark":{"type":"rule","color":"#333","strokeWidth":2},"encoding":{"y":{"field":"lo","type":"quantitative","axis":null},"y2":{"field":"hi"}}},
{"mark":{"type":"bar","width":44,"fill":"#D3789F","stroke":"#333","strokeWidth":2},"encoding":{"y":{"field":"q1","type":"quantitative","axis":null},"y2":{"field":"q3"}}},
{"mark":{"type":"tick","size":44,"thickness":4.5,"color":"#333"},"encoding":{"y":{"field":"md","type":"quantitative","axis":null}}}]},
{"data":{"name":"sig"},"transform":[{"filter":"datum.g=='G9'&&datum.m=='p'"}],"layer":[
{"mark":{"type":"rule","color":"#1a1a1a","strokeWidth":2,"xOffset":3,"x2Offset":-3},"encoding":{"x":{"field":"c1","type":"nominal","axis":null},"x2":{"field":"c2"},"y":{"field":"y","type":"quantitative","axis":null}}},
{"mark":{"type":"rule","color":"#1a1a1a","strokeWidth":2,"xOffset":3,"y2Offset":5},"encoding":{"x":{"field":"c1","type":"nominal","axis":null},"y":{"field":"y","type":"quantitative","axis":null},"y2":{"field":"y"}}},
{"mark":{"type":"rule","color":"#1a1a1a","strokeWidth":2,"xOffset":-3,"y2Offset":5},"encoding":{"x":{"field":"c2","type":"nominal","axis":null},"y":{"field":"y","type":"quantitative","axis":null},"y2":{"field":"y"}}},
{"mark":{"type":"text","fontSize":22,"dx":29,"dy":2,"baseline":"alphabetic","color":"#1a1a1a"},"encoding":{"x":{"field":"at","type":"nominal","axis":null},"y":{"field":"y","type":"quantitative","axis":null},"text":{"field":"t"}}}]},
{"data":{"values":[{}]},"layer":[
{"mark":{"type":"rule","color":"#7a7a7a","strokeWidth":1.5},"encoding":{"x":{"value":0},"x2":{"value":"width"},"y":{"datum":1.116,"axis":null}}},
{"mark":{"type":"rule","color":"#7a7a7a","strokeWidth":1.5},"encoding":{"x":{"value":"width"},"y":{"datum":1.116,"axis":null},"y2":{"datum":-0.026}}}]}]}
]}
]
}
